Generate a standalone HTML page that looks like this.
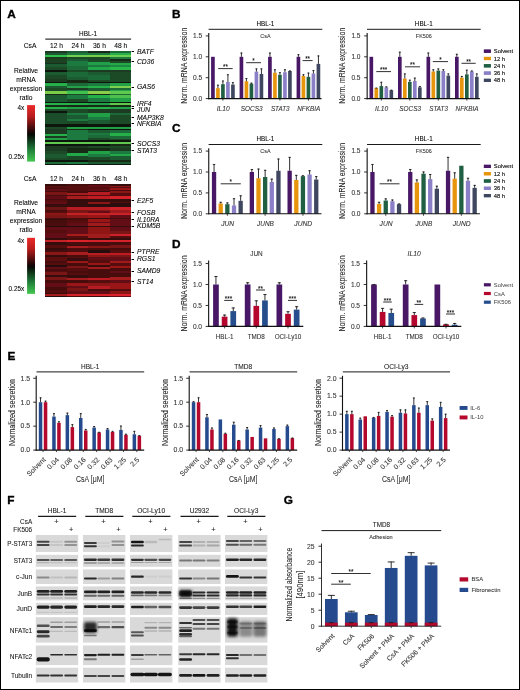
<!DOCTYPE html>
<html><head><meta charset="utf-8"><style>
html,body{margin:0;padding:0;background:#fff;}
svg{display:block;font-family:"Liberation Sans",sans-serif;will-change:transform;filter:blur(0.25px);}
#fr{position:absolute;left:0;top:0;width:520px;height:690px;box-sizing:border-box;border:1px solid #000;}
body{position:relative;width:520px;height:690px;overflow:hidden;}
</style></head><body>
<svg width="520" height="690" viewBox="0 0 520 690">
<rect x="0" y="0" width="520" height="690" fill="#fff"/>
<text x="7.2" y="17.5" font-size="11.8" font-weight="bold" fill="#000" stroke="#000" stroke-width="0.35">A</text>
<text x="171.9" y="17.6" font-size="11.8" font-weight="bold" fill="#000" stroke="#000" stroke-width="0.35">B</text>
<text x="171.9" y="132.2" font-size="11.8" font-weight="bold" fill="#000" stroke="#000" stroke-width="0.35">C</text>
<text x="172" y="247.5" font-size="11.8" font-weight="bold" fill="#000" stroke="#000" stroke-width="0.35">D</text>
<text x="7.5" y="359.7" font-size="11.8" font-weight="bold" fill="#000" stroke="#000" stroke-width="0.35">E</text>
<text x="7.3" y="504.2" font-size="11.8" font-weight="bold" fill="#000" stroke="#000" stroke-width="0.35">F</text>
<text x="283.8" y="503.9" font-size="11.8" font-weight="bold" fill="#000" stroke="#000" stroke-width="0.35">G</text>
<defs><filter id="hb" x="0" y="-2%" width="100%" height="104%"><feGaussianBlur stdDeviation="0.35"/></filter></defs>
<g filter="url(#hb)"><g shape-rendering="crispEdges">
<rect x="45.3" y="51.3" width="85.6" height="113.7" fill="#1a3a20"/>
<rect x="45.3" y="51.3" width="21.45" height="1.25" fill="#1a3a20"/>
<rect x="45.3" y="52.5" width="21.45" height="2.25" fill="#1e5a30"/>
<rect x="45.3" y="54.7" width="21.45" height="2.15" fill="#30c050"/>
<rect x="45.3" y="56.8" width="21.45" height="1.75" fill="#1a3a1e"/>
<rect x="45.3" y="58.5" width="21.45" height="4.25" fill="#1e4224"/>
<rect x="45.3" y="62.7" width="21.45" height="1.75" fill="#14301a"/>
<rect x="45.3" y="64.4" width="21.45" height="2.55" fill="#1e5a30"/>
<rect x="45.3" y="66.9" width="21.45" height="3.45" fill="#1e4a28"/>
<rect x="45.3" y="70.3" width="21.45" height="1.75" fill="#0c180c"/>
<rect x="45.3" y="72" width="21.45" height="3.45" fill="#1e5a30"/>
<rect x="45.3" y="75.4" width="21.45" height="3.45" fill="#1e4a28"/>
<rect x="45.3" y="78.8" width="21.45" height="2.95" fill="#1c3d22"/>
<rect x="45.3" y="81.7" width="21.45" height="1.75" fill="#0c180c"/>
<rect x="45.3" y="83.4" width="21.45" height="2.65" fill="#28b04a"/>
<rect x="45.3" y="86" width="21.45" height="2.05" fill="#1e5a30"/>
<rect x="45.3" y="88" width="21.45" height="2.55" fill="#1e4a28"/>
<rect x="45.3" y="90.5" width="21.45" height="0.95" fill="#1e5a30"/>
<rect x="45.3" y="91.4" width="21.45" height="2.15" fill="#7acc48"/>
<rect x="45.3" y="93.5" width="21.45" height="1.75" fill="#142a18"/>
<rect x="45.3" y="95.2" width="21.45" height="6.35" fill="#1e5a30"/>
<rect x="45.3" y="101.5" width="21.45" height="1.35" fill="#0c180c"/>
<rect x="45.3" y="102.8" width="21.45" height="2.15" fill="#28b04a"/>
<rect x="45.3" y="104.9" width="21.45" height="2.15" fill="#142a18"/>
<rect x="45.3" y="107" width="21.45" height="2.25" fill="#28b04a"/>
<rect x="45.3" y="109.2" width="21.45" height="1.65" fill="#1e4a28"/>
<rect x="45.3" y="110.8" width="21.45" height="2.25" fill="#0c180c"/>
<rect x="45.3" y="113" width="21.45" height="11.45" fill="#1e4d2a"/>
<rect x="45.3" y="124.4" width="21.45" height="2.15" fill="#0c180c"/>
<rect x="45.3" y="126.5" width="21.45" height="0.85" fill="#1e5a30"/>
<rect x="45.3" y="127.3" width="21.45" height="1.75" fill="#1e4a28"/>
<rect x="45.3" y="129" width="21.45" height="5.05" fill="#1a3a20"/>
<rect x="45.3" y="134" width="21.45" height="2.25" fill="#28b04a"/>
<rect x="45.3" y="136.2" width="21.45" height="1.65" fill="#1a3a20"/>
<rect x="45.3" y="137.8" width="21.45" height="2.25" fill="#22a045"/>
<rect x="45.3" y="140" width="21.45" height="1.75" fill="#0c180c"/>
<rect x="45.3" y="141.7" width="21.45" height="2.15" fill="#60c850"/>
<rect x="45.3" y="143.8" width="21.45" height="1.75" fill="#0c180c"/>
<rect x="45.3" y="145.5" width="21.45" height="5.95" fill="#1a3a20"/>
<rect x="45.3" y="151.4" width="21.45" height="2.55" fill="#1e4a28"/>
<rect x="45.3" y="153.9" width="21.45" height="4.25" fill="#1e5a30"/>
<rect x="45.3" y="158.1" width="21.45" height="1.75" fill="#1e4a28"/>
<rect x="45.3" y="159.8" width="21.45" height="1.75" fill="#0c180c"/>
<rect x="45.3" y="161.5" width="21.45" height="2.15" fill="#1e6a38"/>
<rect x="45.3" y="163.6" width="21.45" height="1.45" fill="#0c180c"/>
<rect x="66.7" y="51.3" width="21.45" height="1.25" fill="#1e5a30"/>
<rect x="66.7" y="52.5" width="21.45" height="2.25" fill="#1e7a40"/>
<rect x="66.7" y="54.7" width="21.45" height="2.15" fill="#70d050"/>
<rect x="66.7" y="56.8" width="21.45" height="1.75" fill="#1a4a25"/>
<rect x="66.7" y="58.5" width="21.45" height="2.55" fill="#1e5a30"/>
<rect x="66.7" y="61" width="21.45" height="5.05" fill="#1e7a40"/>
<rect x="66.7" y="66" width="21.45" height="4.35" fill="#1e6a38"/>
<rect x="66.7" y="70.3" width="21.45" height="1.75" fill="#1e4a28"/>
<rect x="66.7" y="72" width="21.45" height="5.15" fill="#1e6a38"/>
<rect x="66.7" y="77.1" width="21.45" height="2.55" fill="#1e5a30"/>
<rect x="66.7" y="79.6" width="21.45" height="3.45" fill="#142a18"/>
<rect x="66.7" y="83" width="21.45" height="2.55" fill="#1e6a38"/>
<rect x="66.7" y="85.5" width="21.45" height="2.15" fill="#28a048"/>
<rect x="66.7" y="87.6" width="21.45" height="2.15" fill="#1a3a20"/>
<rect x="66.7" y="89.7" width="21.45" height="1.75" fill="#1e7a40"/>
<rect x="66.7" y="91.4" width="21.45" height="2.15" fill="#40c050"/>
<rect x="66.7" y="93.5" width="21.45" height="1.75" fill="#1e4a28"/>
<rect x="66.7" y="95.2" width="21.45" height="3.85" fill="#1e7a40"/>
<rect x="66.7" y="99" width="21.45" height="2.55" fill="#1e4a28"/>
<rect x="66.7" y="101.5" width="21.45" height="1.35" fill="#0c180c"/>
<rect x="66.7" y="102.8" width="21.45" height="2.15" fill="#28b04a"/>
<rect x="66.7" y="104.9" width="21.45" height="2.15" fill="#142a18"/>
<rect x="66.7" y="107" width="21.45" height="2.25" fill="#22a045"/>
<rect x="66.7" y="109.2" width="21.45" height="3.35" fill="#1e4a28"/>
<rect x="66.7" y="112.5" width="21.45" height="2.65" fill="#1e7a40"/>
<rect x="66.7" y="115.1" width="21.45" height="3.45" fill="#1e5a30"/>
<rect x="66.7" y="118.5" width="21.45" height="2.55" fill="#1e7a40"/>
<rect x="66.7" y="121" width="21.45" height="3.45" fill="#1e4a28"/>
<rect x="66.7" y="124.4" width="21.45" height="2.15" fill="#0c180c"/>
<rect x="66.7" y="126.5" width="21.45" height="2.05" fill="#22a045"/>
<rect x="66.7" y="128.5" width="21.45" height="1.75" fill="#142a18"/>
<rect x="66.7" y="130.2" width="21.45" height="9.85" fill="#1e7a40"/>
<rect x="66.7" y="140" width="21.45" height="1.75" fill="#0c180c"/>
<rect x="66.7" y="141.7" width="21.45" height="2.15" fill="#60c850"/>
<rect x="66.7" y="143.8" width="21.45" height="1.75" fill="#0c180c"/>
<rect x="66.7" y="145.5" width="21.45" height="2.55" fill="#1a3a20"/>
<rect x="66.7" y="148" width="21.45" height="5.05" fill="#142a18"/>
<rect x="66.7" y="153" width="21.45" height="3.05" fill="#22a848"/>
<rect x="66.7" y="156" width="21.45" height="3.85" fill="#1e4a28"/>
<rect x="66.7" y="159.8" width="21.45" height="1.75" fill="#0c180c"/>
<rect x="66.7" y="161.5" width="21.45" height="2.15" fill="#1e7a40"/>
<rect x="66.7" y="163.6" width="21.45" height="1.45" fill="#0c180c"/>
<rect x="88.1" y="51.3" width="21.45" height="1.25" fill="#142a18"/>
<rect x="88.1" y="52.5" width="21.45" height="2.25" fill="#1e7a40"/>
<rect x="88.1" y="54.7" width="21.45" height="2.15" fill="#78d048"/>
<rect x="88.1" y="56.8" width="21.45" height="5.05" fill="#1e4a28"/>
<rect x="88.1" y="61.8" width="21.45" height="3.45" fill="#20a048"/>
<rect x="88.1" y="65.2" width="21.45" height="1.75" fill="#1e7a40"/>
<rect x="88.1" y="66.9" width="21.45" height="3.45" fill="#22a848"/>
<rect x="88.1" y="70.3" width="21.45" height="1.75" fill="#1a3a20"/>
<rect x="88.1" y="72" width="21.45" height="3.45" fill="#1e5a30"/>
<rect x="88.1" y="75.4" width="21.45" height="4.25" fill="#1e6a38"/>
<rect x="88.1" y="79.6" width="21.45" height="2.15" fill="#1e4a28"/>
<rect x="88.1" y="81.7" width="21.45" height="1.75" fill="#0c180c"/>
<rect x="88.1" y="83.4" width="21.45" height="2.15" fill="#1e7a40"/>
<rect x="88.1" y="85.5" width="21.45" height="2.15" fill="#28b04a"/>
<rect x="88.1" y="87.6" width="21.45" height="2.95" fill="#1e5a30"/>
<rect x="88.1" y="90.5" width="21.45" height="0.95" fill="#1e4a28"/>
<rect x="88.1" y="91.4" width="21.45" height="2.15" fill="#8acc48"/>
<rect x="88.1" y="93.5" width="21.45" height="1.75" fill="#142a18"/>
<rect x="88.1" y="95.2" width="21.45" height="2.55" fill="#28b04a"/>
<rect x="88.1" y="97.7" width="21.45" height="3.85" fill="#1e7a40"/>
<rect x="88.1" y="101.5" width="21.45" height="1.35" fill="#0c180c"/>
<rect x="88.1" y="102.8" width="21.45" height="2.15" fill="#20a048"/>
<rect x="88.1" y="104.9" width="21.45" height="2.15" fill="#142a18"/>
<rect x="88.1" y="107" width="21.45" height="2.25" fill="#28b04a"/>
<rect x="88.1" y="109.2" width="21.45" height="3.35" fill="#1a3a20"/>
<rect x="88.1" y="112.5" width="21.45" height="4.35" fill="#22a045"/>
<rect x="88.1" y="116.8" width="21.45" height="3.35" fill="#1e7a40"/>
<rect x="88.1" y="120.1" width="21.45" height="4.35" fill="#1e5a30"/>
<rect x="88.1" y="124.4" width="21.45" height="2.15" fill="#0c180c"/>
<rect x="88.1" y="126.5" width="21.45" height="2.05" fill="#22a045"/>
<rect x="88.1" y="128.5" width="21.45" height="1.75" fill="#0c180c"/>
<rect x="88.1" y="130.2" width="21.45" height="2.65" fill="#1e5a30"/>
<rect x="88.1" y="132.8" width="21.45" height="2.55" fill="#1e7a40"/>
<rect x="88.1" y="135.3" width="21.45" height="3.05" fill="#1e6a38"/>
<rect x="88.1" y="138.3" width="21.45" height="1.75" fill="#1e4a28"/>
<rect x="88.1" y="140" width="21.45" height="1.75" fill="#0c180c"/>
<rect x="88.1" y="141.7" width="21.45" height="2.15" fill="#60c850"/>
<rect x="88.1" y="143.8" width="21.45" height="1.75" fill="#0c180c"/>
<rect x="88.1" y="145.5" width="21.45" height="2.55" fill="#1e4a28"/>
<rect x="88.1" y="148" width="21.45" height="2.55" fill="#142a18"/>
<rect x="88.1" y="150.5" width="21.45" height="3.45" fill="#22a045"/>
<rect x="88.1" y="153.9" width="21.45" height="2.65" fill="#1e7a40"/>
<rect x="88.1" y="156.5" width="21.45" height="3.35" fill="#1e4a28"/>
<rect x="88.1" y="159.8" width="21.45" height="1.75" fill="#142a18"/>
<rect x="88.1" y="161.5" width="21.45" height="2.15" fill="#1e5a30"/>
<rect x="88.1" y="163.6" width="21.45" height="1.45" fill="#0c180c"/>
<rect x="109.5" y="51.3" width="21.45" height="1.25" fill="#1e6a38"/>
<rect x="109.5" y="52.5" width="21.45" height="2.25" fill="#28b04a"/>
<rect x="109.5" y="54.7" width="21.45" height="2.15" fill="#70d050"/>
<rect x="109.5" y="56.8" width="21.45" height="2.15" fill="#1e7a40"/>
<rect x="109.5" y="58.9" width="21.45" height="1.75" fill="#142a18"/>
<rect x="109.5" y="60.6" width="21.45" height="2.15" fill="#1e4a28"/>
<rect x="109.5" y="62.7" width="21.45" height="2.55" fill="#28a848"/>
<rect x="109.5" y="65.2" width="21.45" height="1.75" fill="#1e8a40"/>
<rect x="109.5" y="66.9" width="21.45" height="3.45" fill="#2ab84c"/>
<rect x="109.5" y="70.3" width="21.45" height="1.75" fill="#1a3a20"/>
<rect x="109.5" y="72" width="21.45" height="9.75" fill="#1e4a28"/>
<rect x="109.5" y="81.7" width="21.45" height="1.75" fill="#0c180c"/>
<rect x="109.5" y="83.4" width="21.45" height="2.15" fill="#22a045"/>
<rect x="109.5" y="85.5" width="21.45" height="2.15" fill="#80d050"/>
<rect x="109.5" y="87.6" width="21.45" height="2.15" fill="#1e6a38"/>
<rect x="109.5" y="89.7" width="21.45" height="1.75" fill="#28a848"/>
<rect x="109.5" y="91.4" width="21.45" height="2.15" fill="#60c850"/>
<rect x="109.5" y="93.5" width="21.45" height="1.75" fill="#1e6a38"/>
<rect x="109.5" y="95.2" width="21.45" height="2.55" fill="#50c050"/>
<rect x="109.5" y="97.7" width="21.45" height="3.85" fill="#22a045"/>
<rect x="109.5" y="101.5" width="21.45" height="1.35" fill="#0c180c"/>
<rect x="109.5" y="102.8" width="21.45" height="2.15" fill="#60c848"/>
<rect x="109.5" y="104.9" width="21.45" height="2.15" fill="#142a18"/>
<rect x="109.5" y="107" width="21.45" height="2.25" fill="#22a045"/>
<rect x="109.5" y="109.2" width="21.45" height="3.35" fill="#1a3a20"/>
<rect x="109.5" y="112.5" width="21.45" height="2.65" fill="#1e6a38"/>
<rect x="109.5" y="115.1" width="21.45" height="9.35" fill="#1e4a28"/>
<rect x="109.5" y="124.4" width="21.45" height="2.15" fill="#0c180c"/>
<rect x="109.5" y="126.5" width="21.45" height="2.05" fill="#22a045"/>
<rect x="109.5" y="128.5" width="21.45" height="1.75" fill="#0c180c"/>
<rect x="109.5" y="130.2" width="21.45" height="2.65" fill="#1e6a38"/>
<rect x="109.5" y="132.8" width="21.45" height="3.45" fill="#28b04a"/>
<rect x="109.5" y="136.2" width="21.45" height="2.55" fill="#1e6a38"/>
<rect x="109.5" y="138.7" width="21.45" height="1.35" fill="#1e4a28"/>
<rect x="109.5" y="140" width="21.45" height="1.75" fill="#0c180c"/>
<rect x="109.5" y="141.7" width="21.45" height="2.15" fill="#60c850"/>
<rect x="109.5" y="143.8" width="21.45" height="1.75" fill="#142a18"/>
<rect x="109.5" y="145.5" width="21.45" height="2.55" fill="#1e4a28"/>
<rect x="109.5" y="148" width="21.45" height="3.45" fill="#1a3a20"/>
<rect x="109.5" y="151.4" width="21.45" height="2.15" fill="#1e7a40"/>
<rect x="109.5" y="153.5" width="21.45" height="2.55" fill="#22a848"/>
<rect x="109.5" y="156" width="21.45" height="3.85" fill="#1e5a30"/>
<rect x="109.5" y="159.8" width="21.45" height="1.75" fill="#142a18"/>
<rect x="109.5" y="161.5" width="21.45" height="2.15" fill="#1e5a30"/>
<rect x="109.5" y="163.6" width="21.45" height="1.45" fill="#0c180c"/>
</g></g>
<g filter="url(#hb)"><g shape-rendering="crispEdges">
<rect x="45.3" y="184.1" width="85.6" height="113.2" fill="#351010"/>
<rect x="45.3" y="184.1" width="21.45" height="1.75" fill="#351010"/>
<rect x="45.3" y="185.8" width="21.45" height="1.75" fill="#550e10"/>
<rect x="45.3" y="187.5" width="21.45" height="1.35" fill="#460e10"/>
<rect x="45.3" y="188.8" width="21.45" height="1.75" fill="#641012"/>
<rect x="45.3" y="190.5" width="21.45" height="1.75" fill="#460e10"/>
<rect x="45.3" y="192.2" width="21.45" height="2.55" fill="#7a1214"/>
<rect x="45.3" y="194.7" width="21.45" height="1.35" fill="#460e10"/>
<rect x="45.3" y="196" width="21.45" height="2.55" fill="#641012"/>
<rect x="45.3" y="198.5" width="21.45" height="1.75" fill="#460e10"/>
<rect x="45.3" y="200.2" width="21.45" height="2.15" fill="#550e10"/>
<rect x="45.3" y="202.3" width="21.45" height="1.75" fill="#641012"/>
<rect x="45.3" y="204" width="21.45" height="3.45" fill="#351010"/>
<rect x="45.3" y="207.4" width="21.45" height="2.55" fill="#6a1214"/>
<rect x="45.3" y="209.9" width="21.45" height="1.35" fill="#460e10"/>
<rect x="45.3" y="211.2" width="21.45" height="1.75" fill="#550e10"/>
<rect x="45.3" y="212.9" width="21.45" height="2.55" fill="#8a1416"/>
<rect x="45.3" y="215.4" width="21.45" height="2.15" fill="#7a1214"/>
<rect x="45.3" y="217.5" width="21.45" height="1.75" fill="#460e10"/>
<rect x="45.3" y="219.2" width="21.45" height="0.85" fill="#351010"/>
<rect x="45.3" y="220" width="21.45" height="2.55" fill="#460e10"/>
<rect x="45.3" y="222.5" width="21.45" height="3.45" fill="#4c0e10"/>
<rect x="45.3" y="225.9" width="21.45" height="1.35" fill="#271010"/>
<rect x="45.3" y="227.2" width="21.45" height="3.05" fill="#641012"/>
<rect x="45.3" y="230.2" width="21.45" height="2.55" fill="#550e10"/>
<rect x="45.3" y="232.7" width="21.45" height="5.15" fill="#641012"/>
<rect x="45.3" y="237.8" width="21.45" height="2.55" fill="#351010"/>
<rect x="45.3" y="240.3" width="21.45" height="2.15" fill="#c52025"/>
<rect x="45.3" y="242.4" width="21.45" height="3.05" fill="#351010"/>
<rect x="45.3" y="245.4" width="21.45" height="2.55" fill="#550e10"/>
<rect x="45.3" y="247.9" width="21.45" height="1.75" fill="#351010"/>
<rect x="45.3" y="249.6" width="21.45" height="2.55" fill="#460e10"/>
<rect x="45.3" y="252.1" width="21.45" height="2.65" fill="#8a1416"/>
<rect x="45.3" y="254.7" width="21.45" height="2.55" fill="#351010"/>
<rect x="45.3" y="257.2" width="21.45" height="3.35" fill="#5b0f11"/>
<rect x="45.3" y="260.5" width="21.45" height="2.65" fill="#460e10"/>
<rect x="45.3" y="263.1" width="21.45" height="1.75" fill="#550e10"/>
<rect x="45.3" y="264.8" width="21.45" height="1.75" fill="#271010"/>
<rect x="45.3" y="266.5" width="21.45" height="2.15" fill="#641012"/>
<rect x="45.3" y="268.6" width="21.45" height="2.15" fill="#460e10"/>
<rect x="45.3" y="270.7" width="21.45" height="1.75" fill="#550e10"/>
<rect x="45.3" y="272.4" width="21.45" height="2.55" fill="#7a1214"/>
<rect x="45.3" y="274.9" width="21.45" height="2.15" fill="#351010"/>
<rect x="45.3" y="277" width="21.45" height="3.45" fill="#7a1214"/>
<rect x="45.3" y="280.4" width="21.45" height="3.05" fill="#460e10"/>
<rect x="45.3" y="283.4" width="21.45" height="3.45" fill="#641012"/>
<rect x="45.3" y="286.8" width="21.45" height="3.35" fill="#460e10"/>
<rect x="45.3" y="290.1" width="21.45" height="2.65" fill="#550e10"/>
<rect x="45.3" y="292.7" width="21.45" height="1.75" fill="#351010"/>
<rect x="45.3" y="294.4" width="21.45" height="1.25" fill="#a71a1f"/>
<rect x="45.3" y="295.6" width="21.45" height="1.75" fill="#271010"/>
<rect x="66.7" y="184.1" width="21.45" height="1.75" fill="#460e10"/>
<rect x="66.7" y="185.8" width="21.45" height="4.75" fill="#550e10"/>
<rect x="66.7" y="190.5" width="21.45" height="2.15" fill="#460e10"/>
<rect x="66.7" y="192.6" width="21.45" height="2.15" fill="#a71a1f"/>
<rect x="66.7" y="194.7" width="21.45" height="1.35" fill="#460e10"/>
<rect x="66.7" y="196" width="21.45" height="2.55" fill="#a71a1f"/>
<rect x="66.7" y="198.5" width="21.45" height="8.95" fill="#351010"/>
<rect x="66.7" y="207.4" width="21.45" height="2.55" fill="#b61c21"/>
<rect x="66.7" y="209.9" width="21.45" height="2.65" fill="#7a1214"/>
<rect x="66.7" y="212.5" width="21.45" height="2.95" fill="#c52025"/>
<rect x="66.7" y="215.4" width="21.45" height="3.05" fill="#8a1416"/>
<rect x="66.7" y="218.4" width="21.45" height="1.65" fill="#460e10"/>
<rect x="66.7" y="220" width="21.45" height="2.55" fill="#550e10"/>
<rect x="66.7" y="222.5" width="21.45" height="3.05" fill="#641012"/>
<rect x="66.7" y="225.5" width="21.45" height="1.75" fill="#271010"/>
<rect x="66.7" y="227.2" width="21.45" height="6.35" fill="#641012"/>
<rect x="66.7" y="233.5" width="21.45" height="2.25" fill="#a71a1f"/>
<rect x="66.7" y="235.7" width="21.45" height="2.15" fill="#550e10"/>
<rect x="66.7" y="237.8" width="21.45" height="2.55" fill="#460e10"/>
<rect x="66.7" y="240.3" width="21.45" height="2.15" fill="#dc242a"/>
<rect x="66.7" y="242.4" width="21.45" height="2.65" fill="#460e10"/>
<rect x="66.7" y="245" width="21.45" height="1.25" fill="#351010"/>
<rect x="66.7" y="246.2" width="21.45" height="1.75" fill="#a71a1f"/>
<rect x="66.7" y="247.9" width="21.45" height="4.25" fill="#4c0e10"/>
<rect x="66.7" y="252.1" width="21.45" height="2.65" fill="#a71a1f"/>
<rect x="66.7" y="254.7" width="21.45" height="2.55" fill="#460e10"/>
<rect x="66.7" y="257.2" width="21.45" height="0.85" fill="#550e10"/>
<rect x="66.7" y="258" width="21.45" height="3.05" fill="#351010"/>
<rect x="66.7" y="261" width="21.45" height="2.15" fill="#9a1618"/>
<rect x="66.7" y="263.1" width="21.45" height="2.95" fill="#460e10"/>
<rect x="66.7" y="266" width="21.45" height="2.25" fill="#7a1214"/>
<rect x="66.7" y="268.2" width="21.45" height="2.55" fill="#550e10"/>
<rect x="66.7" y="270.7" width="21.45" height="2.15" fill="#460e10"/>
<rect x="66.7" y="272.8" width="21.45" height="2.15" fill="#550e10"/>
<rect x="66.7" y="274.9" width="21.45" height="3.45" fill="#351010"/>
<rect x="66.7" y="278.3" width="21.45" height="2.15" fill="#a71a1f"/>
<rect x="66.7" y="280.4" width="21.45" height="3.05" fill="#460e10"/>
<rect x="66.7" y="283.4" width="21.45" height="2.55" fill="#9a1618"/>
<rect x="66.7" y="285.9" width="21.45" height="2.15" fill="#641012"/>
<rect x="66.7" y="288" width="21.45" height="3.05" fill="#7a1214"/>
<rect x="66.7" y="291" width="21.45" height="3.05" fill="#641012"/>
<rect x="66.7" y="294" width="21.45" height="1.65" fill="#d4242a"/>
<rect x="66.7" y="295.6" width="21.45" height="1.75" fill="#460e10"/>
<rect x="88.1" y="184.1" width="21.45" height="1.35" fill="#351010"/>
<rect x="88.1" y="185.4" width="21.45" height="1.75" fill="#641012"/>
<rect x="88.1" y="187.1" width="21.45" height="1.75" fill="#550e10"/>
<rect x="88.1" y="188.8" width="21.45" height="1.75" fill="#641012"/>
<rect x="88.1" y="190.5" width="21.45" height="1.75" fill="#351010"/>
<rect x="88.1" y="192.2" width="21.45" height="2.55" fill="#b61c21"/>
<rect x="88.1" y="194.7" width="21.45" height="1.55" fill="#550e10"/>
<rect x="88.1" y="196.2" width="21.45" height="2.35" fill="#be1e23"/>
<rect x="88.1" y="198.5" width="21.45" height="3.85" fill="#351010"/>
<rect x="88.1" y="202.3" width="21.45" height="1.75" fill="#8a1416"/>
<rect x="88.1" y="204" width="21.45" height="3.45" fill="#2c1010"/>
<rect x="88.1" y="207.4" width="21.45" height="2.55" fill="#b61c21"/>
<rect x="88.1" y="209.9" width="21.45" height="1.35" fill="#8a1416"/>
<rect x="88.1" y="211.2" width="21.45" height="1.35" fill="#641012"/>
<rect x="88.1" y="212.5" width="21.45" height="2.95" fill="#c52025"/>
<rect x="88.1" y="215.4" width="21.45" height="2.15" fill="#9a1618"/>
<rect x="88.1" y="217.5" width="21.45" height="1.75" fill="#351010"/>
<rect x="88.1" y="219.2" width="21.45" height="2.55" fill="#9a1618"/>
<rect x="88.1" y="221.7" width="21.45" height="1.35" fill="#641012"/>
<rect x="88.1" y="223" width="21.45" height="2.95" fill="#a01a1c"/>
<rect x="88.1" y="225.9" width="21.45" height="1.35" fill="#351010"/>
<rect x="88.1" y="227.2" width="21.45" height="6.85" fill="#901618"/>
<rect x="88.1" y="234" width="21.45" height="3.85" fill="#a01a1c"/>
<rect x="88.1" y="237.8" width="21.45" height="2.55" fill="#351010"/>
<rect x="88.1" y="240.3" width="21.45" height="2.15" fill="#d4242a"/>
<rect x="88.1" y="242.4" width="21.45" height="3.85" fill="#460e10"/>
<rect x="88.1" y="246.2" width="21.45" height="1.75" fill="#8a1416"/>
<rect x="88.1" y="247.9" width="21.45" height="1.75" fill="#460e10"/>
<rect x="88.1" y="249.6" width="21.45" height="3.05" fill="#271010"/>
<rect x="88.1" y="252.6" width="21.45" height="2.15" fill="#b61c21"/>
<rect x="88.1" y="254.7" width="21.45" height="2.55" fill="#8a1416"/>
<rect x="88.1" y="257.2" width="21.45" height="2.95" fill="#641012"/>
<rect x="88.1" y="260.1" width="21.45" height="3.05" fill="#550e10"/>
<rect x="88.1" y="263.1" width="21.45" height="2.15" fill="#9a1618"/>
<rect x="88.1" y="265.2" width="21.45" height="2.15" fill="#351010"/>
<rect x="88.1" y="267.3" width="21.45" height="2.15" fill="#a01a1c"/>
<rect x="88.1" y="269.4" width="21.45" height="8.55" fill="#460e10"/>
<rect x="88.1" y="277.9" width="21.45" height="2.55" fill="#be1e23"/>
<rect x="88.1" y="280.4" width="21.45" height="3.05" fill="#550e10"/>
<rect x="88.1" y="283.4" width="21.45" height="2.95" fill="#8a1416"/>
<rect x="88.1" y="286.3" width="21.45" height="2.65" fill="#b61c21"/>
<rect x="88.1" y="288.9" width="21.45" height="2.55" fill="#460e10"/>
<rect x="88.1" y="291.4" width="21.45" height="2.15" fill="#641012"/>
<rect x="88.1" y="293.5" width="21.45" height="2.15" fill="#dc242a"/>
<rect x="88.1" y="295.6" width="21.45" height="1.75" fill="#351010"/>
<rect x="109.5" y="184.1" width="21.45" height="1.75" fill="#351010"/>
<rect x="109.5" y="185.8" width="21.45" height="1.35" fill="#8a1416"/>
<rect x="109.5" y="187.1" width="21.45" height="1.25" fill="#550e10"/>
<rect x="109.5" y="188.3" width="21.45" height="1.75" fill="#9a1618"/>
<rect x="109.5" y="190" width="21.45" height="1.35" fill="#460e10"/>
<rect x="109.5" y="191.3" width="21.45" height="2.15" fill="#8a1416"/>
<rect x="109.5" y="193.4" width="21.45" height="2.15" fill="#550e10"/>
<rect x="109.5" y="195.5" width="21.45" height="3.45" fill="#d4242a"/>
<rect x="109.5" y="198.9" width="21.45" height="2.65" fill="#351010"/>
<rect x="109.5" y="201.5" width="21.45" height="1.75" fill="#550e10"/>
<rect x="109.5" y="203.2" width="21.45" height="4.25" fill="#2c1010"/>
<rect x="109.5" y="207.4" width="21.45" height="2.55" fill="#cd242a"/>
<rect x="109.5" y="209.9" width="21.45" height="2.65" fill="#a01a1c"/>
<rect x="109.5" y="212.5" width="21.45" height="2.95" fill="#cd242a"/>
<rect x="109.5" y="215.4" width="21.45" height="2.15" fill="#641012"/>
<rect x="109.5" y="217.5" width="21.45" height="1.75" fill="#460e10"/>
<rect x="109.5" y="219.2" width="21.45" height="6.35" fill="#641012"/>
<rect x="109.5" y="225.5" width="21.45" height="1.75" fill="#351010"/>
<rect x="109.5" y="227.2" width="21.45" height="3.45" fill="#641012"/>
<rect x="109.5" y="230.6" width="21.45" height="2.95" fill="#7a1214"/>
<rect x="109.5" y="233.5" width="21.45" height="2.25" fill="#cd242a"/>
<rect x="109.5" y="235.7" width="21.45" height="2.15" fill="#550e10"/>
<rect x="109.5" y="237.8" width="21.45" height="2.55" fill="#351010"/>
<rect x="109.5" y="240.3" width="21.45" height="2.15" fill="#d4242a"/>
<rect x="109.5" y="242.4" width="21.45" height="3.05" fill="#460e10"/>
<rect x="109.5" y="245.4" width="21.45" height="2.55" fill="#7a1214"/>
<rect x="109.5" y="247.9" width="21.45" height="1.75" fill="#460e10"/>
<rect x="109.5" y="249.6" width="21.45" height="3.05" fill="#550e10"/>
<rect x="109.5" y="252.6" width="21.45" height="2.15" fill="#be1e23"/>
<rect x="109.5" y="254.7" width="21.45" height="2.55" fill="#7a1214"/>
<rect x="109.5" y="257.2" width="21.45" height="3.35" fill="#641012"/>
<rect x="109.5" y="260.5" width="21.45" height="2.65" fill="#a01a1c"/>
<rect x="109.5" y="263.1" width="21.45" height="2.55" fill="#550e10"/>
<rect x="109.5" y="265.6" width="21.45" height="2.65" fill="#9a1618"/>
<rect x="109.5" y="268.2" width="21.45" height="2.55" fill="#460e10"/>
<rect x="109.5" y="270.7" width="21.45" height="2.15" fill="#641012"/>
<rect x="109.5" y="272.8" width="21.45" height="4.25" fill="#460e10"/>
<rect x="109.5" y="277" width="21.45" height="3.45" fill="#a71a1f"/>
<rect x="109.5" y="280.4" width="21.45" height="3.05" fill="#641012"/>
<rect x="109.5" y="283.4" width="21.45" height="5.15" fill="#9a1618"/>
<rect x="109.5" y="288.5" width="21.45" height="2.55" fill="#550e10"/>
<rect x="109.5" y="291" width="21.45" height="2.55" fill="#8a1416"/>
<rect x="109.5" y="293.5" width="21.45" height="2.15" fill="#dc242a"/>
<rect x="109.5" y="295.6" width="21.45" height="1.75" fill="#641012"/>
</g></g>
<text x="88.1" y="35.9" font-size="6.7" text-anchor="middle" stroke="#1a1a1a" stroke-width="0.08" textLength="18.2" lengthAdjust="spacingAndGlyphs">HBL-1</text>
<line x1="45.3" y1="39" x2="131.1" y2="39" stroke="#333" stroke-width="1.25"/>
<text x="30.1" y="48" font-size="6.7" text-anchor="middle" stroke="#1a1a1a" stroke-width="0.08">CsA</text>
<text x="56.6" y="48" font-size="6.7" text-anchor="middle" stroke="#1a1a1a" stroke-width="0.08">12 h</text>
<text x="78" y="48" font-size="6.7" text-anchor="middle" stroke="#1a1a1a" stroke-width="0.08">24 h</text>
<text x="99.4" y="48" font-size="6.7" text-anchor="middle" stroke="#1a1a1a" stroke-width="0.08">36 h</text>
<text x="120.8" y="48" font-size="6.7" text-anchor="middle" stroke="#1a1a1a" stroke-width="0.08">48 h</text>
<text x="30.1" y="181" font-size="6.7" text-anchor="middle" stroke="#1a1a1a" stroke-width="0.08">CsA</text>
<text x="56.6" y="181" font-size="6.7" text-anchor="middle" stroke="#1a1a1a" stroke-width="0.08">12 h</text>
<text x="78" y="181" font-size="6.7" text-anchor="middle" stroke="#1a1a1a" stroke-width="0.08">24 h</text>
<text x="99.4" y="181" font-size="6.7" text-anchor="middle" stroke="#1a1a1a" stroke-width="0.08">36 h</text>
<text x="120.8" y="181" font-size="6.7" text-anchor="middle" stroke="#1a1a1a" stroke-width="0.08">48 h</text>
<line x1="131.6" y1="51.5" x2="134" y2="51.5" stroke="#000" stroke-width="1"/>
<text x="137" y="54.1" font-size="6.75" font-style="italic" stroke="#1a1a1a" stroke-width="0.08">BATF</text>
<line x1="131.6" y1="61.5" x2="134" y2="61.5" stroke="#000" stroke-width="1"/>
<text x="137" y="63.9" font-size="6.75" font-style="italic" stroke="#1a1a1a" stroke-width="0.08">CD36</text>
<line x1="131.6" y1="87.5" x2="134" y2="87.5" stroke="#000" stroke-width="1"/>
<text x="137" y="89.2" font-size="6.75" font-style="italic" stroke="#1a1a1a" stroke-width="0.08">GAS6</text>
<line x1="131.6" y1="106.5" x2="134" y2="106.5" stroke="#000" stroke-width="1"/>
<text x="137" y="105.8" font-size="6.75" font-style="italic" stroke="#1a1a1a" stroke-width="0.08">IRF4</text>
<line x1="131.6" y1="108.5" x2="134" y2="108.5" stroke="#000" stroke-width="1"/>
<text x="137" y="111.8" font-size="6.75" font-style="italic" stroke="#1a1a1a" stroke-width="0.08">JUN</text>
<line x1="131.6" y1="117.5" x2="134" y2="117.5" stroke="#000" stroke-width="1"/>
<text x="137" y="119.6" font-size="6.75" font-style="italic" stroke="#1a1a1a" stroke-width="0.08">MAP3K8</text>
<line x1="131.6" y1="123.5" x2="134" y2="123.5" stroke="#000" stroke-width="1"/>
<text x="137" y="125.7" font-size="6.75" font-style="italic" stroke="#1a1a1a" stroke-width="0.08">NFKBIA</text>
<line x1="131.6" y1="143.5" x2="134" y2="143.5" stroke="#000" stroke-width="1"/>
<text x="137" y="145.5" font-size="6.75" font-style="italic" stroke="#1a1a1a" stroke-width="0.08">SOCS3</text>
<line x1="131.6" y1="150.5" x2="134" y2="150.5" stroke="#000" stroke-width="1"/>
<text x="137" y="152.5" font-size="6.75" font-style="italic" stroke="#1a1a1a" stroke-width="0.08">STAT3</text>
<line x1="131.6" y1="200.5" x2="134" y2="200.5" stroke="#000" stroke-width="1"/>
<text x="137" y="202.6" font-size="6.75" font-style="italic" stroke="#1a1a1a" stroke-width="0.08">E2F5</text>
<line x1="131.6" y1="212.5" x2="134" y2="212.5" stroke="#000" stroke-width="1"/>
<text x="137" y="214.5" font-size="6.75" font-style="italic" stroke="#1a1a1a" stroke-width="0.08">FOSB</text>
<line x1="131.6" y1="219.5" x2="134" y2="219.5" stroke="#000" stroke-width="1"/>
<text x="137" y="221.6" font-size="6.75" font-style="italic" stroke="#1a1a1a" stroke-width="0.08">IL10RA</text>
<line x1="131.6" y1="226.5" x2="134" y2="226.5" stroke="#000" stroke-width="1"/>
<text x="137" y="228.4" font-size="6.75" font-style="italic" stroke="#1a1a1a" stroke-width="0.08">KDM5B</text>
<line x1="131.6" y1="252.5" x2="134" y2="252.5" stroke="#000" stroke-width="1"/>
<text x="137" y="254.2" font-size="6.75" font-style="italic" stroke="#1a1a1a" stroke-width="0.08">PTPRE</text>
<line x1="131.6" y1="259.5" x2="134" y2="259.5" stroke="#000" stroke-width="1"/>
<text x="137" y="261.1" font-size="6.75" font-style="italic" stroke="#1a1a1a" stroke-width="0.08">RGS1</text>
<line x1="131.6" y1="271.5" x2="134" y2="271.5" stroke="#000" stroke-width="1"/>
<text x="137" y="273.3" font-size="6.75" font-style="italic" stroke="#1a1a1a" stroke-width="0.08">SAMD9</text>
<line x1="131.6" y1="281.5" x2="134" y2="281.5" stroke="#000" stroke-width="1"/>
<text x="137" y="283.8" font-size="6.75" font-style="italic" stroke="#1a1a1a" stroke-width="0.08">ST14</text>
<defs><linearGradient id="cb" x1="0" y1="0" x2="0" y2="1"><stop offset="0" stop-color="#ec2a2a"/><stop offset="0.2" stop-color="#b81c1c"/><stop offset="0.48" stop-color="#1a0606"/><stop offset="0.52" stop-color="#060a06"/><stop offset="0.78" stop-color="#1f7a38"/><stop offset="1" stop-color="#45c850"/></linearGradient></defs>
<text x="26" y="72.6" font-size="6.7" text-anchor="middle" stroke="#1a1a1a" stroke-width="0.08">Relative</text>
<text x="26" y="81.7" font-size="6.7" text-anchor="middle" stroke="#1a1a1a" stroke-width="0.08">mRNA</text>
<text x="26" y="90.8" font-size="6.7" text-anchor="middle" stroke="#1a1a1a" stroke-width="0.08">expression</text>
<text x="26" y="99.9" font-size="6.7" text-anchor="middle" stroke="#1a1a1a" stroke-width="0.08">ratio</text>
<rect x="27.1" y="105.1" width="7.9" height="56.5" fill="url(#cb)"/>
<text x="24.2" y="110" font-size="6.4" text-anchor="end" stroke="#1a1a1a" stroke-width="0.08">4x</text>
<text x="24.2" y="159" font-size="6.4" text-anchor="end" stroke="#1a1a1a" stroke-width="0.08">0.25x</text>
<text x="26" y="204.9" font-size="6.7" text-anchor="middle" stroke="#1a1a1a" stroke-width="0.08">Relative</text>
<text x="26" y="214" font-size="6.7" text-anchor="middle" stroke="#1a1a1a" stroke-width="0.08">mRNA</text>
<text x="26" y="223.1" font-size="6.7" text-anchor="middle" stroke="#1a1a1a" stroke-width="0.08">expression</text>
<text x="26" y="232.2" font-size="6.7" text-anchor="middle" stroke="#1a1a1a" stroke-width="0.08">ratio</text>
<rect x="27.1" y="237.8" width="7.9" height="56.1" fill="url(#cb)"/>
<text x="24.2" y="242.7" font-size="6.4" text-anchor="end" stroke="#1a1a1a" stroke-width="0.08">4x</text>
<text x="24.2" y="291.3" font-size="6.4" text-anchor="end" stroke="#1a1a1a" stroke-width="0.08">0.25x</text>
<text x="265.4" y="26.1" font-size="6.3" text-anchor="middle" stroke="#1a1a1a" stroke-width="0.08">HBL-1</text>
<line x1="208.6" y1="29.3" x2="322.3" y2="29.3" stroke="#1a1a1a" stroke-width="1"/>
<text x="265.4" y="37.6" font-size="5.4" text-anchor="middle" fill="#333" stroke="#333" stroke-width="0.08">CsA</text>
<rect x="211.1" y="56.8" width="3.65" height="41.8" fill="#481766"/>
<rect x="216.1" y="88.15" width="3.65" height="10.45" fill="#e8950e"/>
<line x1="217.92" y1="88.15" x2="217.92" y2="84.81" stroke="#1a1a1a" stroke-width="0.9"/>
<line x1="216.92" y1="85.21" x2="218.93" y2="85.21" stroke="#1a1a1a" stroke-width="0.9"/>
<rect x="221.1" y="84.18" width="3.65" height="14.42" fill="#215f43"/>
<line x1="222.92" y1="84.18" x2="222.92" y2="80.63" stroke="#1a1a1a" stroke-width="0.9"/>
<line x1="221.92" y1="81.03" x2="223.93" y2="81.03" stroke="#1a1a1a" stroke-width="0.9"/>
<rect x="226.1" y="81.88" width="3.65" height="16.72" fill="#8b80c8"/>
<line x1="227.92" y1="81.88" x2="227.92" y2="74.36" stroke="#1a1a1a" stroke-width="0.9"/>
<line x1="226.92" y1="74.76" x2="228.93" y2="74.76" stroke="#1a1a1a" stroke-width="0.9"/>
<rect x="231.1" y="84.6" width="3.65" height="14" fill="#3e475f"/>
<line x1="232.92" y1="84.6" x2="232.92" y2="82.3" stroke="#1a1a1a" stroke-width="0.9"/>
<line x1="231.92" y1="82.7" x2="233.93" y2="82.7" stroke="#1a1a1a" stroke-width="0.9"/>
<rect x="239.6" y="56.8" width="3.65" height="41.8" fill="#481766"/>
<line x1="241.42" y1="56.8" x2="241.42" y2="52.62" stroke="#1a1a1a" stroke-width="0.9"/>
<line x1="240.42" y1="53.02" x2="242.43" y2="53.02" stroke="#1a1a1a" stroke-width="0.9"/>
<rect x="244.6" y="81.25" width="3.65" height="17.35" fill="#e8950e"/>
<line x1="246.42" y1="81.25" x2="246.42" y2="78.12" stroke="#1a1a1a" stroke-width="0.9"/>
<line x1="245.42" y1="78.52" x2="247.43" y2="78.52" stroke="#1a1a1a" stroke-width="0.9"/>
<rect x="249.6" y="83.68" width="3.65" height="14.92" fill="#215f43"/>
<line x1="251.42" y1="83.68" x2="251.42" y2="82.72" stroke="#1a1a1a" stroke-width="0.9"/>
<line x1="250.42" y1="83.12" x2="252.43" y2="83.12" stroke="#1a1a1a" stroke-width="0.9"/>
<rect x="254.6" y="71.64" width="3.65" height="26.96" fill="#8b80c8"/>
<line x1="256.43" y1="71.64" x2="256.43" y2="68.5" stroke="#1a1a1a" stroke-width="0.9"/>
<line x1="255.42" y1="68.9" x2="257.43" y2="68.9" stroke="#1a1a1a" stroke-width="0.9"/>
<rect x="259.6" y="73.94" width="3.65" height="24.66" fill="#3e475f"/>
<line x1="261.43" y1="73.94" x2="261.43" y2="68.5" stroke="#1a1a1a" stroke-width="0.9"/>
<line x1="260.42" y1="68.9" x2="262.43" y2="68.9" stroke="#1a1a1a" stroke-width="0.9"/>
<rect x="268.1" y="56.8" width="3.65" height="41.8" fill="#481766"/>
<line x1="269.93" y1="56.8" x2="269.93" y2="52.62" stroke="#1a1a1a" stroke-width="0.9"/>
<line x1="268.92" y1="53.02" x2="270.93" y2="53.02" stroke="#1a1a1a" stroke-width="0.9"/>
<rect x="273.1" y="72.68" width="3.65" height="25.92" fill="#e8950e"/>
<line x1="274.93" y1="72.68" x2="274.93" y2="69.34" stroke="#1a1a1a" stroke-width="0.9"/>
<line x1="273.92" y1="69.74" x2="275.93" y2="69.74" stroke="#1a1a1a" stroke-width="0.9"/>
<rect x="278.1" y="74.77" width="3.65" height="23.83" fill="#215f43"/>
<line x1="279.93" y1="74.77" x2="279.93" y2="72.27" stroke="#1a1a1a" stroke-width="0.9"/>
<line x1="278.92" y1="72.67" x2="280.93" y2="72.67" stroke="#1a1a1a" stroke-width="0.9"/>
<rect x="283.1" y="72.27" width="3.65" height="26.33" fill="#8b80c8"/>
<line x1="284.93" y1="72.27" x2="284.93" y2="69.34" stroke="#1a1a1a" stroke-width="0.9"/>
<line x1="283.92" y1="69.74" x2="285.93" y2="69.74" stroke="#1a1a1a" stroke-width="0.9"/>
<rect x="288.1" y="71.01" width="3.65" height="27.59" fill="#3e475f"/>
<line x1="289.93" y1="71.01" x2="289.93" y2="70.59" stroke="#1a1a1a" stroke-width="0.9"/>
<line x1="288.92" y1="70.99" x2="290.93" y2="70.99" stroke="#1a1a1a" stroke-width="0.9"/>
<rect x="296.6" y="56.8" width="3.65" height="41.8" fill="#481766"/>
<line x1="298.43" y1="56.8" x2="298.43" y2="54.29" stroke="#1a1a1a" stroke-width="0.9"/>
<line x1="297.42" y1="54.69" x2="299.43" y2="54.69" stroke="#1a1a1a" stroke-width="0.9"/>
<rect x="301.6" y="76.03" width="3.65" height="22.57" fill="#e8950e"/>
<line x1="303.43" y1="76.03" x2="303.43" y2="74.36" stroke="#1a1a1a" stroke-width="0.9"/>
<line x1="302.42" y1="74.76" x2="304.43" y2="74.76" stroke="#1a1a1a" stroke-width="0.9"/>
<rect x="306.6" y="76.86" width="3.65" height="21.74" fill="#215f43"/>
<line x1="308.43" y1="76.86" x2="308.43" y2="72.68" stroke="#1a1a1a" stroke-width="0.9"/>
<line x1="307.42" y1="73.08" x2="309.43" y2="73.08" stroke="#1a1a1a" stroke-width="0.9"/>
<rect x="311.6" y="73.52" width="3.65" height="25.08" fill="#8b80c8"/>
<line x1="313.43" y1="73.52" x2="313.43" y2="70.18" stroke="#1a1a1a" stroke-width="0.9"/>
<line x1="312.42" y1="70.58" x2="314.43" y2="70.58" stroke="#1a1a1a" stroke-width="0.9"/>
<rect x="316.6" y="63.91" width="3.65" height="34.69" fill="#3e475f"/>
<line x1="318.43" y1="63.91" x2="318.43" y2="55.55" stroke="#1a1a1a" stroke-width="0.9"/>
<line x1="317.42" y1="55.95" x2="319.43" y2="55.95" stroke="#1a1a1a" stroke-width="0.9"/>
<line x1="208.75" y1="33.1" x2="208.75" y2="99.15" stroke="#111" stroke-width="1.1"/>
<line x1="208.2" y1="98.6" x2="321.5" y2="98.6" stroke="#111" stroke-width="1.1"/>
<line x1="205.75" y1="98.6" x2="208.75" y2="98.6" stroke="#1a1a1a" stroke-width="0.9"/>
<text x="202.15" y="100.9" font-size="6.6" text-anchor="end" fill="#333" stroke="#333" stroke-width="0.08">0.0</text>
<line x1="205.75" y1="77.7" x2="208.75" y2="77.7" stroke="#1a1a1a" stroke-width="0.9"/>
<text x="202.15" y="80" font-size="6.6" text-anchor="end" fill="#333" stroke="#333" stroke-width="0.08">0.5</text>
<line x1="205.75" y1="56.8" x2="208.75" y2="56.8" stroke="#1a1a1a" stroke-width="0.9"/>
<text x="202.15" y="59.1" font-size="6.6" text-anchor="end" fill="#333" stroke="#333" stroke-width="0.08">1.0</text>
<line x1="205.75" y1="35.9" x2="208.75" y2="35.9" stroke="#1a1a1a" stroke-width="0.9"/>
<text x="202.15" y="38.2" font-size="6.6" text-anchor="end" fill="#333" stroke="#333" stroke-width="0.08">1.5</text>
<line x1="222.92" y1="98.6" x2="222.92" y2="100.6" stroke="#1a1a1a" stroke-width="0.8"/>
<line x1="251.42" y1="98.6" x2="251.42" y2="100.6" stroke="#1a1a1a" stroke-width="0.8"/>
<line x1="279.93" y1="98.6" x2="279.93" y2="100.6" stroke="#1a1a1a" stroke-width="0.8"/>
<line x1="308.43" y1="98.6" x2="308.43" y2="100.6" stroke="#1a1a1a" stroke-width="0.8"/>
<text x="223.22" y="111" font-size="6.8" text-anchor="middle" font-style="italic" fill="#333" stroke="#333" stroke-width="0.08" textLength="13" lengthAdjust="spacingAndGlyphs">IL10</text>
<text x="251.72" y="111" font-size="6.8" text-anchor="middle" font-style="italic" fill="#333" stroke="#333" stroke-width="0.08" textLength="21.9" lengthAdjust="spacingAndGlyphs">SOCS3</text>
<text x="280.23" y="111" font-size="6.8" text-anchor="middle" font-style="italic" fill="#333" stroke="#333" stroke-width="0.08" textLength="18.7" lengthAdjust="spacingAndGlyphs">STAT3</text>
<text x="308.73" y="111" font-size="6.8" text-anchor="middle" font-style="italic" fill="#333" stroke="#333" stroke-width="0.08" textLength="23" lengthAdjust="spacingAndGlyphs">NFKBIA</text>
<line x1="218.2" y1="68.6" x2="232.7" y2="68.6" stroke="#1a1a1a" stroke-width="0.9"/>
<text x="225.45" y="69.2" font-size="6.3" text-anchor="middle" stroke="#1a1a1a" stroke-width="0.08">**</text>
<line x1="246.2" y1="62.7" x2="261" y2="62.7" stroke="#1a1a1a" stroke-width="0.9"/>
<text x="253.6" y="63.3" font-size="6.3" text-anchor="middle" stroke="#1a1a1a" stroke-width="0.08">*</text>
<line x1="302.6" y1="60.6" x2="312.6" y2="60.6" stroke="#1a1a1a" stroke-width="0.9"/>
<text x="307.6" y="61.2" font-size="6.3" text-anchor="middle" stroke="#1a1a1a" stroke-width="0.08">**</text>
<text x="186.9" y="65.7" font-size="8.6" text-anchor="middle" fill="#222" stroke="#222" stroke-width="0.08" transform="rotate(-90 186.9 65.7)" textLength="76" lengthAdjust="spacingAndGlyphs">Norm. mRNA expression</text>
<rect x="483.9" y="49.6" width="6.9" height="3.2" fill="#481766"/>
<text x="493.8" y="53.2" font-size="5.8" fill="#3a3a3a" stroke-width="0">Solvent</text>
<rect x="483.9" y="56.9" width="6.9" height="3.2" fill="#e8950e"/>
<text x="493.8" y="60.5" font-size="5.8" fill="#3a3a3a" stroke-width="0">12 h</text>
<rect x="483.9" y="64.2" width="6.9" height="3.2" fill="#215f43"/>
<text x="493.8" y="67.8" font-size="5.8" fill="#3a3a3a" stroke-width="0">24 h</text>
<rect x="483.9" y="71.5" width="6.9" height="3.2" fill="#8b80c8"/>
<text x="493.8" y="75.1" font-size="5.8" fill="#3a3a3a" stroke-width="0">36 h</text>
<rect x="483.9" y="78.8" width="6.9" height="3.2" fill="#3e475f"/>
<text x="493.8" y="82.4" font-size="5.8" fill="#3a3a3a" stroke-width="0">48 h</text>
<text x="423.8" y="26.1" font-size="6.3" text-anchor="middle" stroke="#1a1a1a" stroke-width="0.08">HBL-1</text>
<line x1="367" y1="29.3" x2="480.7" y2="29.3" stroke="#1a1a1a" stroke-width="1"/>
<text x="423.8" y="37.6" font-size="5.4" text-anchor="middle" fill="#333" stroke="#333" stroke-width="0.08">FK506</text>
<rect x="369.5" y="56.8" width="3.65" height="41.8" fill="#481766"/>
<rect x="374.5" y="88.15" width="3.65" height="10.45" fill="#e8950e"/>
<line x1="376.32" y1="88.15" x2="376.32" y2="87.73" stroke="#1a1a1a" stroke-width="0.9"/>
<line x1="375.32" y1="88.13" x2="377.33" y2="88.13" stroke="#1a1a1a" stroke-width="0.9"/>
<rect x="379.5" y="86.06" width="3.65" height="12.54" fill="#215f43"/>
<line x1="381.32" y1="86.06" x2="381.32" y2="81.88" stroke="#1a1a1a" stroke-width="0.9"/>
<line x1="380.32" y1="82.28" x2="382.33" y2="82.28" stroke="#1a1a1a" stroke-width="0.9"/>
<rect x="384.5" y="87.31" width="3.65" height="11.29" fill="#8b80c8"/>
<line x1="386.32" y1="87.31" x2="386.32" y2="86.48" stroke="#1a1a1a" stroke-width="0.9"/>
<line x1="385.32" y1="86.88" x2="387.33" y2="86.88" stroke="#1a1a1a" stroke-width="0.9"/>
<rect x="389.5" y="90.24" width="3.65" height="8.36" fill="#3e475f"/>
<line x1="391.32" y1="90.24" x2="391.32" y2="89.82" stroke="#1a1a1a" stroke-width="0.9"/>
<line x1="390.32" y1="90.22" x2="392.33" y2="90.22" stroke="#1a1a1a" stroke-width="0.9"/>
<rect x="398" y="56.8" width="3.65" height="41.8" fill="#481766"/>
<line x1="399.82" y1="56.8" x2="399.82" y2="51.78" stroke="#1a1a1a" stroke-width="0.9"/>
<line x1="398.82" y1="52.18" x2="400.83" y2="52.18" stroke="#1a1a1a" stroke-width="0.9"/>
<rect x="403" y="78.54" width="3.65" height="20.06" fill="#e8950e"/>
<line x1="404.82" y1="78.54" x2="404.82" y2="73.52" stroke="#1a1a1a" stroke-width="0.9"/>
<line x1="403.82" y1="73.92" x2="405.83" y2="73.92" stroke="#1a1a1a" stroke-width="0.9"/>
<rect x="408" y="81.88" width="3.65" height="16.72" fill="#215f43"/>
<line x1="409.82" y1="81.88" x2="409.82" y2="79.79" stroke="#1a1a1a" stroke-width="0.9"/>
<line x1="408.82" y1="80.19" x2="410.83" y2="80.19" stroke="#1a1a1a" stroke-width="0.9"/>
<rect x="413" y="81.04" width="3.65" height="17.56" fill="#8b80c8"/>
<line x1="414.82" y1="81.04" x2="414.82" y2="77.7" stroke="#1a1a1a" stroke-width="0.9"/>
<line x1="413.82" y1="78.1" x2="415.83" y2="78.1" stroke="#1a1a1a" stroke-width="0.9"/>
<rect x="418" y="87.31" width="3.65" height="11.29" fill="#3e475f"/>
<line x1="419.82" y1="87.31" x2="419.82" y2="86.06" stroke="#1a1a1a" stroke-width="0.9"/>
<line x1="418.82" y1="86.46" x2="420.83" y2="86.46" stroke="#1a1a1a" stroke-width="0.9"/>
<rect x="426.5" y="56.8" width="3.65" height="41.8" fill="#481766"/>
<line x1="428.32" y1="56.8" x2="428.32" y2="52.62" stroke="#1a1a1a" stroke-width="0.9"/>
<line x1="427.32" y1="53.02" x2="429.33" y2="53.02" stroke="#1a1a1a" stroke-width="0.9"/>
<rect x="431.5" y="71.43" width="3.65" height="27.17" fill="#e8950e"/>
<line x1="433.32" y1="71.43" x2="433.32" y2="69.34" stroke="#1a1a1a" stroke-width="0.9"/>
<line x1="432.32" y1="69.74" x2="434.33" y2="69.74" stroke="#1a1a1a" stroke-width="0.9"/>
<rect x="436.5" y="70.59" width="3.65" height="28.01" fill="#215f43"/>
<line x1="438.32" y1="70.59" x2="438.32" y2="68.5" stroke="#1a1a1a" stroke-width="0.9"/>
<line x1="437.32" y1="68.9" x2="439.33" y2="68.9" stroke="#1a1a1a" stroke-width="0.9"/>
<rect x="441.5" y="71.01" width="3.65" height="27.59" fill="#8b80c8"/>
<line x1="443.32" y1="71.01" x2="443.32" y2="69.34" stroke="#1a1a1a" stroke-width="0.9"/>
<line x1="442.32" y1="69.74" x2="444.33" y2="69.74" stroke="#1a1a1a" stroke-width="0.9"/>
<rect x="446.5" y="75.61" width="3.65" height="22.99" fill="#3e475f"/>
<line x1="448.32" y1="75.61" x2="448.32" y2="73.52" stroke="#1a1a1a" stroke-width="0.9"/>
<line x1="447.32" y1="73.92" x2="449.33" y2="73.92" stroke="#1a1a1a" stroke-width="0.9"/>
<rect x="455" y="56.8" width="3.65" height="41.8" fill="#481766"/>
<line x1="456.82" y1="56.8" x2="456.82" y2="53.87" stroke="#1a1a1a" stroke-width="0.9"/>
<line x1="455.82" y1="54.27" x2="457.83" y2="54.27" stroke="#1a1a1a" stroke-width="0.9"/>
<rect x="460" y="77.7" width="3.65" height="20.9" fill="#e8950e"/>
<line x1="461.82" y1="77.7" x2="461.82" y2="76.03" stroke="#1a1a1a" stroke-width="0.9"/>
<line x1="460.82" y1="76.43" x2="462.83" y2="76.43" stroke="#1a1a1a" stroke-width="0.9"/>
<rect x="465" y="74.36" width="3.65" height="24.24" fill="#215f43"/>
<line x1="466.82" y1="74.36" x2="466.82" y2="69.76" stroke="#1a1a1a" stroke-width="0.9"/>
<line x1="465.82" y1="70.16" x2="467.83" y2="70.16" stroke="#1a1a1a" stroke-width="0.9"/>
<rect x="470" y="71.43" width="3.65" height="27.17" fill="#8b80c8"/>
<line x1="471.82" y1="71.43" x2="471.82" y2="70.59" stroke="#1a1a1a" stroke-width="0.9"/>
<line x1="470.82" y1="70.99" x2="472.83" y2="70.99" stroke="#1a1a1a" stroke-width="0.9"/>
<rect x="475" y="76.86" width="3.65" height="21.74" fill="#3e475f"/>
<line x1="476.82" y1="76.86" x2="476.82" y2="73.52" stroke="#1a1a1a" stroke-width="0.9"/>
<line x1="475.82" y1="73.92" x2="477.83" y2="73.92" stroke="#1a1a1a" stroke-width="0.9"/>
<line x1="367.15" y1="33.1" x2="367.15" y2="99.15" stroke="#111" stroke-width="1.1"/>
<line x1="366.6" y1="98.6" x2="479.9" y2="98.6" stroke="#111" stroke-width="1.1"/>
<line x1="364.15" y1="98.6" x2="367.15" y2="98.6" stroke="#1a1a1a" stroke-width="0.9"/>
<text x="360.55" y="100.9" font-size="6.6" text-anchor="end" fill="#333" stroke="#333" stroke-width="0.08">0.0</text>
<line x1="364.15" y1="77.7" x2="367.15" y2="77.7" stroke="#1a1a1a" stroke-width="0.9"/>
<text x="360.55" y="80" font-size="6.6" text-anchor="end" fill="#333" stroke="#333" stroke-width="0.08">0.5</text>
<line x1="364.15" y1="56.8" x2="367.15" y2="56.8" stroke="#1a1a1a" stroke-width="0.9"/>
<text x="360.55" y="59.1" font-size="6.6" text-anchor="end" fill="#333" stroke="#333" stroke-width="0.08">1.0</text>
<line x1="364.15" y1="35.9" x2="367.15" y2="35.9" stroke="#1a1a1a" stroke-width="0.9"/>
<text x="360.55" y="38.2" font-size="6.6" text-anchor="end" fill="#333" stroke="#333" stroke-width="0.08">1.5</text>
<line x1="381.32" y1="98.6" x2="381.32" y2="100.6" stroke="#1a1a1a" stroke-width="0.8"/>
<line x1="409.82" y1="98.6" x2="409.82" y2="100.6" stroke="#1a1a1a" stroke-width="0.8"/>
<line x1="438.32" y1="98.6" x2="438.32" y2="100.6" stroke="#1a1a1a" stroke-width="0.8"/>
<line x1="466.82" y1="98.6" x2="466.82" y2="100.6" stroke="#1a1a1a" stroke-width="0.8"/>
<text x="381.62" y="111" font-size="6.8" text-anchor="middle" font-style="italic" fill="#333" stroke="#333" stroke-width="0.08" textLength="13" lengthAdjust="spacingAndGlyphs">IL10</text>
<text x="410.12" y="111" font-size="6.8" text-anchor="middle" font-style="italic" fill="#333" stroke="#333" stroke-width="0.08" textLength="21.9" lengthAdjust="spacingAndGlyphs">SOCS3</text>
<text x="438.62" y="111" font-size="6.8" text-anchor="middle" font-style="italic" fill="#333" stroke="#333" stroke-width="0.08" textLength="18.7" lengthAdjust="spacingAndGlyphs">STAT3</text>
<text x="467.12" y="111" font-size="6.8" text-anchor="middle" font-style="italic" fill="#333" stroke="#333" stroke-width="0.08" textLength="23" lengthAdjust="spacingAndGlyphs">NFKBIA</text>
<line x1="376.3" y1="71.6" x2="391" y2="71.6" stroke="#1a1a1a" stroke-width="0.9"/>
<text x="383.65" y="72.2" font-size="6.3" text-anchor="middle" stroke="#1a1a1a" stroke-width="0.08">***</text>
<line x1="405" y1="66.8" x2="420" y2="66.8" stroke="#1a1a1a" stroke-width="0.9"/>
<text x="412.5" y="67.4" font-size="6.3" text-anchor="middle" stroke="#1a1a1a" stroke-width="0.08">**</text>
<line x1="432.8" y1="61.6" x2="448" y2="61.6" stroke="#1a1a1a" stroke-width="0.9"/>
<text x="440.4" y="62.2" font-size="6.3" text-anchor="middle" stroke="#1a1a1a" stroke-width="0.08">*</text>
<line x1="461.5" y1="63.3" x2="475.7" y2="63.3" stroke="#1a1a1a" stroke-width="0.9"/>
<text x="468.6" y="63.9" font-size="6.3" text-anchor="middle" stroke="#1a1a1a" stroke-width="0.08">**</text>
<text x="345.3" y="65.7" font-size="8.6" text-anchor="middle" fill="#222" stroke="#222" stroke-width="0.08" transform="rotate(-90 345.3 65.7)" textLength="76" lengthAdjust="spacingAndGlyphs">Norm. mRNA expression</text>
<rect x="483.9" y="49.6" width="6.9" height="3.2" fill="#481766"/>
<text x="493.8" y="53.2" font-size="5.8" fill="#3a3a3a" stroke-width="0">Solvent</text>
<rect x="483.9" y="56.9" width="6.9" height="3.2" fill="#e8950e"/>
<text x="493.8" y="60.5" font-size="5.8" fill="#3a3a3a" stroke-width="0">12 h</text>
<rect x="483.9" y="64.2" width="6.9" height="3.2" fill="#215f43"/>
<text x="493.8" y="67.8" font-size="5.8" fill="#3a3a3a" stroke-width="0">24 h</text>
<rect x="483.9" y="71.5" width="6.9" height="3.2" fill="#8b80c8"/>
<text x="493.8" y="75.1" font-size="5.8" fill="#3a3a3a" stroke-width="0">36 h</text>
<rect x="483.9" y="78.8" width="6.9" height="3.2" fill="#3e475f"/>
<text x="493.8" y="82.4" font-size="5.8" fill="#3a3a3a" stroke-width="0">48 h</text>
<text x="265.4" y="141.3" font-size="6.3" text-anchor="middle" stroke="#1a1a1a" stroke-width="0.08">HBL-1</text>
<line x1="208.6" y1="144.5" x2="322.3" y2="144.5" stroke="#1a1a1a" stroke-width="1"/>
<text x="265.4" y="152.8" font-size="5.4" text-anchor="middle" fill="#333" stroke="#333" stroke-width="0.08">CsA</text>
<rect x="211.9" y="172" width="4.3" height="41.8" fill="#481766"/>
<line x1="214.05" y1="172" x2="214.05" y2="164.06" stroke="#1a1a1a" stroke-width="0.9"/>
<line x1="212.87" y1="164.46" x2="215.23" y2="164.46" stroke="#1a1a1a" stroke-width="0.9"/>
<rect x="218.55" y="203.56" width="4.3" height="10.24" fill="#e8950e"/>
<line x1="220.7" y1="203.56" x2="220.7" y2="201.89" stroke="#1a1a1a" stroke-width="0.9"/>
<line x1="219.52" y1="202.29" x2="221.88" y2="202.29" stroke="#1a1a1a" stroke-width="0.9"/>
<rect x="225.2" y="204.19" width="4.3" height="9.61" fill="#215f43"/>
<line x1="227.35" y1="204.19" x2="227.35" y2="202.51" stroke="#1a1a1a" stroke-width="0.9"/>
<line x1="226.17" y1="202.91" x2="228.53" y2="202.91" stroke="#1a1a1a" stroke-width="0.9"/>
<rect x="231.85" y="205.44" width="4.3" height="8.36" fill="#8b80c8"/>
<line x1="234" y1="205.44" x2="234" y2="198.33" stroke="#1a1a1a" stroke-width="0.9"/>
<line x1="232.82" y1="198.73" x2="235.18" y2="198.73" stroke="#1a1a1a" stroke-width="0.9"/>
<rect x="238.5" y="200.84" width="4.3" height="12.96" fill="#3e475f"/>
<line x1="240.65" y1="200.84" x2="240.65" y2="195.41" stroke="#1a1a1a" stroke-width="0.9"/>
<line x1="239.47" y1="195.81" x2="241.83" y2="195.81" stroke="#1a1a1a" stroke-width="0.9"/>
<rect x="249.7" y="172" width="4.3" height="41.8" fill="#481766"/>
<line x1="251.85" y1="172" x2="251.85" y2="169.07" stroke="#1a1a1a" stroke-width="0.9"/>
<line x1="250.67" y1="169.47" x2="253.03" y2="169.47" stroke="#1a1a1a" stroke-width="0.9"/>
<rect x="256.35" y="178.27" width="4.3" height="35.53" fill="#e8950e"/>
<line x1="258.5" y1="178.27" x2="258.5" y2="168.66" stroke="#1a1a1a" stroke-width="0.9"/>
<line x1="257.32" y1="169.06" x2="259.68" y2="169.06" stroke="#1a1a1a" stroke-width="0.9"/>
<rect x="263" y="177.02" width="4.3" height="36.78" fill="#215f43"/>
<line x1="265.15" y1="177.02" x2="265.15" y2="169.91" stroke="#1a1a1a" stroke-width="0.9"/>
<line x1="263.97" y1="170.31" x2="266.33" y2="170.31" stroke="#1a1a1a" stroke-width="0.9"/>
<rect x="269.65" y="182.03" width="4.3" height="31.77" fill="#8b80c8"/>
<line x1="271.8" y1="182.03" x2="271.8" y2="178.69" stroke="#1a1a1a" stroke-width="0.9"/>
<line x1="270.62" y1="179.09" x2="272.98" y2="179.09" stroke="#1a1a1a" stroke-width="0.9"/>
<rect x="276.3" y="170.75" width="4.3" height="43.05" fill="#3e475f"/>
<line x1="278.45" y1="170.75" x2="278.45" y2="158.62" stroke="#1a1a1a" stroke-width="0.9"/>
<line x1="277.27" y1="159.02" x2="279.63" y2="159.02" stroke="#1a1a1a" stroke-width="0.9"/>
<rect x="287.5" y="170.75" width="4.3" height="43.05" fill="#481766"/>
<line x1="289.65" y1="170.75" x2="289.65" y2="156.95" stroke="#1a1a1a" stroke-width="0.9"/>
<line x1="288.47" y1="157.35" x2="290.83" y2="157.35" stroke="#1a1a1a" stroke-width="0.9"/>
<rect x="294.15" y="179.94" width="4.3" height="33.86" fill="#e8950e"/>
<line x1="296.3" y1="179.94" x2="296.3" y2="174.93" stroke="#1a1a1a" stroke-width="0.9"/>
<line x1="295.12" y1="175.33" x2="297.48" y2="175.33" stroke="#1a1a1a" stroke-width="0.9"/>
<rect x="300.8" y="176.18" width="4.3" height="37.62" fill="#215f43"/>
<line x1="302.95" y1="176.18" x2="302.95" y2="175.34" stroke="#1a1a1a" stroke-width="0.9"/>
<line x1="301.77" y1="175.74" x2="304.13" y2="175.74" stroke="#1a1a1a" stroke-width="0.9"/>
<rect x="307.45" y="174.51" width="4.3" height="39.29" fill="#8b80c8"/>
<line x1="309.6" y1="174.51" x2="309.6" y2="170.33" stroke="#1a1a1a" stroke-width="0.9"/>
<line x1="308.42" y1="170.73" x2="310.78" y2="170.73" stroke="#1a1a1a" stroke-width="0.9"/>
<rect x="314.1" y="179.52" width="4.3" height="34.28" fill="#3e475f"/>
<line x1="316.25" y1="179.52" x2="316.25" y2="176.18" stroke="#1a1a1a" stroke-width="0.9"/>
<line x1="315.07" y1="176.58" x2="317.43" y2="176.58" stroke="#1a1a1a" stroke-width="0.9"/>
<line x1="208.75" y1="148.3" x2="208.75" y2="214.35" stroke="#111" stroke-width="1.1"/>
<line x1="208.2" y1="213.8" x2="321.5" y2="213.8" stroke="#111" stroke-width="1.1"/>
<line x1="205.75" y1="213.8" x2="208.75" y2="213.8" stroke="#1a1a1a" stroke-width="0.9"/>
<text x="202.15" y="216.1" font-size="6.6" text-anchor="end" fill="#333" stroke="#333" stroke-width="0.08">0.0</text>
<line x1="205.75" y1="192.9" x2="208.75" y2="192.9" stroke="#1a1a1a" stroke-width="0.9"/>
<text x="202.15" y="195.2" font-size="6.6" text-anchor="end" fill="#333" stroke="#333" stroke-width="0.08">0.5</text>
<line x1="205.75" y1="172" x2="208.75" y2="172" stroke="#1a1a1a" stroke-width="0.9"/>
<text x="202.15" y="174.3" font-size="6.6" text-anchor="end" fill="#333" stroke="#333" stroke-width="0.08">1.0</text>
<line x1="205.75" y1="151.1" x2="208.75" y2="151.1" stroke="#1a1a1a" stroke-width="0.9"/>
<text x="202.15" y="153.4" font-size="6.6" text-anchor="end" fill="#333" stroke="#333" stroke-width="0.08">1.5</text>
<line x1="227.35" y1="213.8" x2="227.35" y2="215.8" stroke="#1a1a1a" stroke-width="0.8"/>
<line x1="265.15" y1="213.8" x2="265.15" y2="215.8" stroke="#1a1a1a" stroke-width="0.8"/>
<line x1="302.95" y1="213.8" x2="302.95" y2="215.8" stroke="#1a1a1a" stroke-width="0.8"/>
<text x="227.65" y="226.2" font-size="6.8" text-anchor="middle" font-style="italic" fill="#333" stroke="#333" stroke-width="0.08" textLength="13" lengthAdjust="spacingAndGlyphs">JUN</text>
<text x="265.45" y="226.2" font-size="6.8" text-anchor="middle" font-style="italic" fill="#333" stroke="#333" stroke-width="0.08" textLength="16.8" lengthAdjust="spacingAndGlyphs">JUNB</text>
<text x="303.25" y="226.2" font-size="6.8" text-anchor="middle" font-style="italic" fill="#333" stroke="#333" stroke-width="0.08" textLength="17.9" lengthAdjust="spacingAndGlyphs">JUND</text>
<line x1="220.7" y1="183.8" x2="240.8" y2="183.8" stroke="#1a1a1a" stroke-width="0.9"/>
<text x="230.75" y="184.4" font-size="6.3" text-anchor="middle" stroke="#1a1a1a" stroke-width="0.08">*</text>
<text x="186.9" y="180.9" font-size="8.6" text-anchor="middle" fill="#222" stroke="#222" stroke-width="0.08" transform="rotate(-90 186.9 180.9)" textLength="76" lengthAdjust="spacingAndGlyphs">Norm. mRNA expression</text>
<rect x="483.9" y="164.8" width="6.9" height="3.2" fill="#481766"/>
<text x="493.8" y="168.4" font-size="5.8" fill="#3a3a3a" stroke-width="0">Solvent</text>
<rect x="483.9" y="172.1" width="6.9" height="3.2" fill="#e8950e"/>
<text x="493.8" y="175.7" font-size="5.8" fill="#3a3a3a" stroke-width="0">12 h</text>
<rect x="483.9" y="179.4" width="6.9" height="3.2" fill="#215f43"/>
<text x="493.8" y="183" font-size="5.8" fill="#3a3a3a" stroke-width="0">24 h</text>
<rect x="483.9" y="186.7" width="6.9" height="3.2" fill="#8b80c8"/>
<text x="493.8" y="190.3" font-size="5.8" fill="#3a3a3a" stroke-width="0">36 h</text>
<rect x="483.9" y="194" width="6.9" height="3.2" fill="#3e475f"/>
<text x="493.8" y="197.6" font-size="5.8" fill="#3a3a3a" stroke-width="0">48 h</text>
<text x="423.8" y="141.3" font-size="6.3" text-anchor="middle" stroke="#1a1a1a" stroke-width="0.08">HBL-1</text>
<line x1="367" y1="144.5" x2="480.7" y2="144.5" stroke="#1a1a1a" stroke-width="1"/>
<text x="423.8" y="152.8" font-size="5.4" text-anchor="middle" fill="#333" stroke="#333" stroke-width="0.08">FK506</text>
<rect x="370.3" y="172" width="4.3" height="41.8" fill="#481766"/>
<line x1="372.45" y1="172" x2="372.45" y2="164.06" stroke="#1a1a1a" stroke-width="0.9"/>
<line x1="371.27" y1="164.46" x2="373.63" y2="164.46" stroke="#1a1a1a" stroke-width="0.9"/>
<rect x="376.95" y="203.94" width="4.3" height="9.86" fill="#e8950e"/>
<line x1="379.1" y1="203.94" x2="379.1" y2="201.89" stroke="#1a1a1a" stroke-width="0.9"/>
<line x1="377.92" y1="202.29" x2="380.28" y2="202.29" stroke="#1a1a1a" stroke-width="0.9"/>
<rect x="383.6" y="200.55" width="4.3" height="13.25" fill="#215f43"/>
<line x1="385.75" y1="200.55" x2="385.75" y2="198.46" stroke="#1a1a1a" stroke-width="0.9"/>
<line x1="384.57" y1="198.86" x2="386.93" y2="198.86" stroke="#1a1a1a" stroke-width="0.9"/>
<rect x="390.25" y="201.26" width="4.3" height="12.54" fill="#8b80c8"/>
<line x1="392.4" y1="201.26" x2="392.4" y2="199.59" stroke="#1a1a1a" stroke-width="0.9"/>
<line x1="391.22" y1="199.99" x2="393.58" y2="199.99" stroke="#1a1a1a" stroke-width="0.9"/>
<rect x="396.9" y="204.19" width="4.3" height="9.61" fill="#3e475f"/>
<line x1="399.05" y1="204.19" x2="399.05" y2="203.56" stroke="#1a1a1a" stroke-width="0.9"/>
<line x1="397.87" y1="203.96" x2="400.23" y2="203.96" stroke="#1a1a1a" stroke-width="0.9"/>
<rect x="408.1" y="172" width="4.3" height="41.8" fill="#481766"/>
<line x1="410.25" y1="172" x2="410.25" y2="169.07" stroke="#1a1a1a" stroke-width="0.9"/>
<line x1="409.07" y1="169.47" x2="411.43" y2="169.47" stroke="#1a1a1a" stroke-width="0.9"/>
<rect x="414.75" y="182.45" width="4.3" height="31.35" fill="#e8950e"/>
<line x1="416.9" y1="182.45" x2="416.9" y2="179.52" stroke="#1a1a1a" stroke-width="0.9"/>
<line x1="415.72" y1="179.92" x2="418.08" y2="179.92" stroke="#1a1a1a" stroke-width="0.9"/>
<rect x="421.4" y="173.67" width="4.3" height="40.13" fill="#215f43"/>
<line x1="423.55" y1="173.67" x2="423.55" y2="171.58" stroke="#1a1a1a" stroke-width="0.9"/>
<line x1="422.37" y1="171.98" x2="424.73" y2="171.98" stroke="#1a1a1a" stroke-width="0.9"/>
<rect x="428.05" y="179.11" width="4.3" height="34.69" fill="#8b80c8"/>
<line x1="430.2" y1="179.11" x2="430.2" y2="174.09" stroke="#1a1a1a" stroke-width="0.9"/>
<line x1="429.02" y1="174.49" x2="431.38" y2="174.49" stroke="#1a1a1a" stroke-width="0.9"/>
<rect x="434.7" y="188.72" width="4.3" height="25.08" fill="#3e475f"/>
<line x1="436.85" y1="188.72" x2="436.85" y2="185.79" stroke="#1a1a1a" stroke-width="0.9"/>
<line x1="435.67" y1="186.19" x2="438.03" y2="186.19" stroke="#1a1a1a" stroke-width="0.9"/>
<rect x="445.9" y="170.75" width="4.3" height="43.05" fill="#481766"/>
<line x1="448.05" y1="170.75" x2="448.05" y2="156.95" stroke="#1a1a1a" stroke-width="0.9"/>
<line x1="446.87" y1="157.35" x2="449.23" y2="157.35" stroke="#1a1a1a" stroke-width="0.9"/>
<rect x="452.55" y="178.69" width="4.3" height="35.11" fill="#e8950e"/>
<line x1="454.7" y1="178.69" x2="454.7" y2="172.42" stroke="#1a1a1a" stroke-width="0.9"/>
<line x1="453.52" y1="172.82" x2="455.88" y2="172.82" stroke="#1a1a1a" stroke-width="0.9"/>
<rect x="459.2" y="165.73" width="4.3" height="48.07" fill="#215f43"/>
<rect x="465.85" y="180.78" width="4.3" height="33.02" fill="#8b80c8"/>
<line x1="468" y1="180.78" x2="468" y2="177.85" stroke="#1a1a1a" stroke-width="0.9"/>
<line x1="466.82" y1="178.25" x2="469.18" y2="178.25" stroke="#1a1a1a" stroke-width="0.9"/>
<rect x="472.5" y="187.88" width="4.3" height="25.92" fill="#3e475f"/>
<line x1="474.65" y1="187.88" x2="474.65" y2="184.96" stroke="#1a1a1a" stroke-width="0.9"/>
<line x1="473.47" y1="185.36" x2="475.83" y2="185.36" stroke="#1a1a1a" stroke-width="0.9"/>
<line x1="367.15" y1="148.3" x2="367.15" y2="214.35" stroke="#111" stroke-width="1.1"/>
<line x1="366.6" y1="213.8" x2="479.9" y2="213.8" stroke="#111" stroke-width="1.1"/>
<line x1="364.15" y1="213.8" x2="367.15" y2="213.8" stroke="#1a1a1a" stroke-width="0.9"/>
<text x="360.55" y="216.1" font-size="6.6" text-anchor="end" fill="#333" stroke="#333" stroke-width="0.08">0.0</text>
<line x1="364.15" y1="192.9" x2="367.15" y2="192.9" stroke="#1a1a1a" stroke-width="0.9"/>
<text x="360.55" y="195.2" font-size="6.6" text-anchor="end" fill="#333" stroke="#333" stroke-width="0.08">0.5</text>
<line x1="364.15" y1="172" x2="367.15" y2="172" stroke="#1a1a1a" stroke-width="0.9"/>
<text x="360.55" y="174.3" font-size="6.6" text-anchor="end" fill="#333" stroke="#333" stroke-width="0.08">1.0</text>
<line x1="364.15" y1="151.1" x2="367.15" y2="151.1" stroke="#1a1a1a" stroke-width="0.9"/>
<text x="360.55" y="153.4" font-size="6.6" text-anchor="end" fill="#333" stroke="#333" stroke-width="0.08">1.5</text>
<line x1="385.75" y1="213.8" x2="385.75" y2="215.8" stroke="#1a1a1a" stroke-width="0.8"/>
<line x1="423.55" y1="213.8" x2="423.55" y2="215.8" stroke="#1a1a1a" stroke-width="0.8"/>
<line x1="461.35" y1="213.8" x2="461.35" y2="215.8" stroke="#1a1a1a" stroke-width="0.8"/>
<text x="386.05" y="226.2" font-size="6.8" text-anchor="middle" font-style="italic" fill="#333" stroke="#333" stroke-width="0.08" textLength="13" lengthAdjust="spacingAndGlyphs">JUN</text>
<text x="423.85" y="226.2" font-size="6.8" text-anchor="middle" font-style="italic" fill="#333" stroke="#333" stroke-width="0.08" textLength="16.8" lengthAdjust="spacingAndGlyphs">JUNB</text>
<text x="461.65" y="226.2" font-size="6.8" text-anchor="middle" font-style="italic" fill="#333" stroke="#333" stroke-width="0.08" textLength="17.9" lengthAdjust="spacingAndGlyphs">JUND</text>
<line x1="379.6" y1="183.8" x2="399.5" y2="183.8" stroke="#1a1a1a" stroke-width="0.9"/>
<text x="389.55" y="184.4" font-size="6.3" text-anchor="middle" stroke="#1a1a1a" stroke-width="0.08">**</text>
<text x="345.3" y="180.9" font-size="8.6" text-anchor="middle" fill="#222" stroke="#222" stroke-width="0.08" transform="rotate(-90 345.3 180.9)" textLength="76" lengthAdjust="spacingAndGlyphs">Norm. mRNA expression</text>
<rect x="483.9" y="164.8" width="6.9" height="3.2" fill="#481766"/>
<text x="493.8" y="168.4" font-size="5.8" fill="#3a3a3a" stroke-width="0">Solvent</text>
<rect x="483.9" y="172.1" width="6.9" height="3.2" fill="#e8950e"/>
<text x="493.8" y="175.7" font-size="5.8" fill="#3a3a3a" stroke-width="0">12 h</text>
<rect x="483.9" y="179.4" width="6.9" height="3.2" fill="#215f43"/>
<text x="493.8" y="183" font-size="5.8" fill="#3a3a3a" stroke-width="0">24 h</text>
<rect x="483.9" y="186.7" width="6.9" height="3.2" fill="#8b80c8"/>
<text x="493.8" y="190.3" font-size="5.8" fill="#3a3a3a" stroke-width="0">36 h</text>
<rect x="483.9" y="194" width="6.9" height="3.2" fill="#3e475f"/>
<text x="493.8" y="197.6" font-size="5.8" fill="#3a3a3a" stroke-width="0">48 h</text>
<text x="256.5" y="255.9" font-size="6.8" text-anchor="middle" fill="#333" stroke="#333" stroke-width="0.08" textLength="12.5" lengthAdjust="spacingAndGlyphs">JUN</text>
<rect x="213.1" y="284.5" width="5.7" height="41.9" fill="#481766"/>
<line x1="215.95" y1="284.5" x2="215.95" y2="276.12" stroke="#1a1a1a" stroke-width="0.9"/>
<line x1="214.38" y1="276.52" x2="217.52" y2="276.52" stroke="#1a1a1a" stroke-width="0.9"/>
<rect x="221.75" y="316.64" width="5.7" height="9.76" fill="#b5062e"/>
<line x1="224.6" y1="316.64" x2="224.6" y2="314.67" stroke="#1a1a1a" stroke-width="0.9"/>
<line x1="223.03" y1="315.07" x2="226.17" y2="315.07" stroke="#1a1a1a" stroke-width="0.9"/>
<rect x="230.4" y="311.11" width="5.7" height="15.29" fill="#264d8c"/>
<line x1="233.25" y1="311.11" x2="233.25" y2="307.54" stroke="#1a1a1a" stroke-width="0.9"/>
<line x1="231.68" y1="307.94" x2="234.82" y2="307.94" stroke="#1a1a1a" stroke-width="0.9"/>
<rect x="244.8" y="284.5" width="5.7" height="41.9" fill="#481766"/>
<line x1="247.65" y1="284.5" x2="247.65" y2="282.4" stroke="#1a1a1a" stroke-width="0.9"/>
<line x1="246.08" y1="282.8" x2="249.22" y2="282.8" stroke="#1a1a1a" stroke-width="0.9"/>
<rect x="253.45" y="305.87" width="5.7" height="20.53" fill="#b5062e"/>
<line x1="256.3" y1="305.87" x2="256.3" y2="300.42" stroke="#1a1a1a" stroke-width="0.9"/>
<line x1="254.73" y1="300.82" x2="257.87" y2="300.82" stroke="#1a1a1a" stroke-width="0.9"/>
<rect x="262.1" y="300.42" width="5.7" height="25.98" fill="#264d8c"/>
<line x1="264.95" y1="300.42" x2="264.95" y2="294.14" stroke="#1a1a1a" stroke-width="0.9"/>
<line x1="263.38" y1="294.54" x2="266.52" y2="294.54" stroke="#1a1a1a" stroke-width="0.9"/>
<rect x="276.5" y="284.5" width="5.7" height="41.9" fill="#481766"/>
<line x1="279.35" y1="284.5" x2="279.35" y2="282.4" stroke="#1a1a1a" stroke-width="0.9"/>
<line x1="277.78" y1="282.8" x2="280.92" y2="282.8" stroke="#1a1a1a" stroke-width="0.9"/>
<rect x="285.15" y="313.83" width="5.7" height="12.57" fill="#b5062e"/>
<line x1="288" y1="313.83" x2="288" y2="311.32" stroke="#1a1a1a" stroke-width="0.9"/>
<line x1="286.43" y1="311.72" x2="289.57" y2="311.72" stroke="#1a1a1a" stroke-width="0.9"/>
<rect x="293.8" y="309.64" width="5.7" height="16.76" fill="#264d8c"/>
<line x1="296.65" y1="309.64" x2="296.65" y2="306.29" stroke="#1a1a1a" stroke-width="0.9"/>
<line x1="295.08" y1="306.69" x2="298.22" y2="306.69" stroke="#1a1a1a" stroke-width="0.9"/>
<line x1="208.65" y1="260.6" x2="208.65" y2="326.95" stroke="#111" stroke-width="1.1"/>
<line x1="208.1" y1="326.4" x2="303.3" y2="326.4" stroke="#111" stroke-width="1.1"/>
<line x1="205.65" y1="326.4" x2="208.65" y2="326.4" stroke="#1a1a1a" stroke-width="0.9"/>
<text x="202.05" y="328.7" font-size="6.6" text-anchor="end" fill="#333" stroke="#333" stroke-width="0.08">0.0</text>
<line x1="205.65" y1="305.45" x2="208.65" y2="305.45" stroke="#1a1a1a" stroke-width="0.9"/>
<text x="202.05" y="307.75" font-size="6.6" text-anchor="end" fill="#333" stroke="#333" stroke-width="0.08">0.5</text>
<line x1="205.65" y1="284.5" x2="208.65" y2="284.5" stroke="#1a1a1a" stroke-width="0.9"/>
<text x="202.05" y="286.8" font-size="6.6" text-anchor="end" fill="#333" stroke="#333" stroke-width="0.08">1.0</text>
<line x1="205.65" y1="263.55" x2="208.65" y2="263.55" stroke="#1a1a1a" stroke-width="0.9"/>
<text x="202.05" y="265.85" font-size="6.6" text-anchor="end" fill="#333" stroke="#333" stroke-width="0.08">1.5</text>
<line x1="224.6" y1="326.4" x2="224.6" y2="328.4" stroke="#1a1a1a" stroke-width="0.8"/>
<line x1="256.3" y1="326.4" x2="256.3" y2="328.4" stroke="#1a1a1a" stroke-width="0.8"/>
<line x1="288" y1="326.4" x2="288" y2="328.4" stroke="#1a1a1a" stroke-width="0.8"/>
<text x="224.6" y="338.8" font-size="6.3" text-anchor="middle" fill="#333" stroke="#333" stroke-width="0.08">HBL-1</text>
<text x="256.3" y="338.8" font-size="6.3" text-anchor="middle" fill="#333" stroke="#333" stroke-width="0.08">TMD8</text>
<text x="288" y="338.8" font-size="6.3" text-anchor="middle" fill="#333" stroke="#333" stroke-width="0.08">OCI-Ly10</text>
<line x1="224.2" y1="300.4" x2="232.9" y2="300.4" stroke="#1a1a1a" stroke-width="0.9"/>
<text x="228.55" y="301" font-size="6.3" text-anchor="middle" stroke="#1a1a1a" stroke-width="0.08">***</text>
<line x1="256" y1="290" x2="265" y2="290" stroke="#1a1a1a" stroke-width="0.9"/>
<text x="260.5" y="290.6" font-size="6.3" text-anchor="middle" stroke="#1a1a1a" stroke-width="0.08">**</text>
<line x1="288" y1="300.4" x2="297" y2="300.4" stroke="#1a1a1a" stroke-width="0.9"/>
<text x="292.5" y="301" font-size="6.3" text-anchor="middle" stroke="#1a1a1a" stroke-width="0.08">***</text>
<text x="186.9" y="293.5" font-size="8.6" text-anchor="middle" fill="#222" stroke="#222" stroke-width="0.08" transform="rotate(-90 186.9 293.5)" textLength="76" lengthAdjust="spacingAndGlyphs">Norm. mRNA expression</text>
<text x="414.2" y="255.9" font-size="6.8" text-anchor="middle" font-style="italic" fill="#333" stroke="#333" stroke-width="0.08" textLength="13.3" lengthAdjust="spacingAndGlyphs">IL10</text>
<rect x="371.1" y="284.5" width="5.7" height="41.9" fill="#481766"/>
<line x1="373.95" y1="284.5" x2="373.95" y2="284.08" stroke="#1a1a1a" stroke-width="0.9"/>
<line x1="372.38" y1="284.48" x2="375.52" y2="284.48" stroke="#1a1a1a" stroke-width="0.9"/>
<rect x="379.75" y="311.94" width="5.7" height="14.46" fill="#b5062e"/>
<line x1="382.6" y1="311.94" x2="382.6" y2="307.96" stroke="#1a1a1a" stroke-width="0.9"/>
<line x1="381.03" y1="308.36" x2="384.17" y2="308.36" stroke="#1a1a1a" stroke-width="0.9"/>
<rect x="388.4" y="312.99" width="5.7" height="13.41" fill="#264d8c"/>
<line x1="391.25" y1="312.99" x2="391.25" y2="308.8" stroke="#1a1a1a" stroke-width="0.9"/>
<line x1="389.68" y1="309.2" x2="392.82" y2="309.2" stroke="#1a1a1a" stroke-width="0.9"/>
<rect x="402.8" y="284.5" width="5.7" height="41.9" fill="#481766"/>
<line x1="405.65" y1="284.5" x2="405.65" y2="280.31" stroke="#1a1a1a" stroke-width="0.9"/>
<line x1="404.08" y1="280.71" x2="407.22" y2="280.71" stroke="#1a1a1a" stroke-width="0.9"/>
<rect x="411.45" y="315.09" width="5.7" height="11.31" fill="#b5062e"/>
<line x1="414.3" y1="315.09" x2="414.3" y2="312.15" stroke="#1a1a1a" stroke-width="0.9"/>
<line x1="412.73" y1="312.55" x2="415.87" y2="312.55" stroke="#1a1a1a" stroke-width="0.9"/>
<rect x="420.1" y="318.44" width="5.7" height="7.96" fill="#264d8c"/>
<line x1="422.95" y1="318.44" x2="422.95" y2="317.6" stroke="#1a1a1a" stroke-width="0.9"/>
<line x1="421.38" y1="318" x2="424.52" y2="318" stroke="#1a1a1a" stroke-width="0.9"/>
<rect x="434.5" y="284.5" width="5.7" height="41.9" fill="#481766"/>
<rect x="443.15" y="324.3" width="5.7" height="2.1" fill="#b5062e"/>
<line x1="446" y1="324.3" x2="446" y2="323.89" stroke="#1a1a1a" stroke-width="0.9"/>
<line x1="444.43" y1="324.29" x2="447.57" y2="324.29" stroke="#1a1a1a" stroke-width="0.9"/>
<rect x="451.8" y="324.72" width="5.7" height="1.68" fill="#264d8c"/>
<line x1="454.65" y1="324.72" x2="454.65" y2="323.05" stroke="#1a1a1a" stroke-width="0.9"/>
<line x1="453.08" y1="323.45" x2="456.22" y2="323.45" stroke="#1a1a1a" stroke-width="0.9"/>
<line x1="366.65" y1="260.6" x2="366.65" y2="326.95" stroke="#111" stroke-width="1.1"/>
<line x1="366.1" y1="326.4" x2="461.3" y2="326.4" stroke="#111" stroke-width="1.1"/>
<line x1="363.65" y1="326.4" x2="366.65" y2="326.4" stroke="#1a1a1a" stroke-width="0.9"/>
<text x="360.05" y="328.7" font-size="6.6" text-anchor="end" fill="#333" stroke="#333" stroke-width="0.08">0.0</text>
<line x1="363.65" y1="305.45" x2="366.65" y2="305.45" stroke="#1a1a1a" stroke-width="0.9"/>
<text x="360.05" y="307.75" font-size="6.6" text-anchor="end" fill="#333" stroke="#333" stroke-width="0.08">0.5</text>
<line x1="363.65" y1="284.5" x2="366.65" y2="284.5" stroke="#1a1a1a" stroke-width="0.9"/>
<text x="360.05" y="286.8" font-size="6.6" text-anchor="end" fill="#333" stroke="#333" stroke-width="0.08">1.0</text>
<line x1="363.65" y1="263.55" x2="366.65" y2="263.55" stroke="#1a1a1a" stroke-width="0.9"/>
<text x="360.05" y="265.85" font-size="6.6" text-anchor="end" fill="#333" stroke="#333" stroke-width="0.08">1.5</text>
<line x1="382.6" y1="326.4" x2="382.6" y2="328.4" stroke="#1a1a1a" stroke-width="0.8"/>
<line x1="414.3" y1="326.4" x2="414.3" y2="328.4" stroke="#1a1a1a" stroke-width="0.8"/>
<line x1="446" y1="326.4" x2="446" y2="328.4" stroke="#1a1a1a" stroke-width="0.8"/>
<text x="382.6" y="338.8" font-size="6.3" text-anchor="middle" fill="#333" stroke="#333" stroke-width="0.08">HBL-1</text>
<text x="414.3" y="338.8" font-size="6.3" text-anchor="middle" fill="#333" stroke="#333" stroke-width="0.08">TMD8</text>
<text x="446" y="338.8" font-size="6.3" text-anchor="middle" fill="#333" stroke="#333" stroke-width="0.08">OCI-Ly10</text>
<line x1="383.2" y1="302" x2="391.8" y2="302" stroke="#1a1a1a" stroke-width="0.9"/>
<text x="387.5" y="302.6" font-size="6.3" text-anchor="middle" stroke="#1a1a1a" stroke-width="0.08">***</text>
<line x1="414.5" y1="304.4" x2="423.2" y2="304.4" stroke="#1a1a1a" stroke-width="0.9"/>
<text x="418.85" y="305" font-size="6.3" text-anchor="middle" stroke="#1a1a1a" stroke-width="0.08">**</text>
<line x1="446" y1="314" x2="455" y2="314" stroke="#1a1a1a" stroke-width="0.9"/>
<text x="450.5" y="314.6" font-size="6.3" text-anchor="middle" stroke="#1a1a1a" stroke-width="0.08">***</text>
<text x="344.9" y="293.5" font-size="8.6" text-anchor="middle" fill="#222" stroke="#222" stroke-width="0.08" transform="rotate(-90 344.9 293.5)" textLength="76" lengthAdjust="spacingAndGlyphs">Norm. mRNA expression</text>
<rect x="483.9" y="283.2" width="6.9" height="3.2" fill="#481766"/>
<text x="493.8" y="286.8" font-size="5.8" fill="#3a3a3a" stroke-width="0">Solvent</text>
<rect x="483.9" y="291.9" width="6.9" height="3.2" fill="#b5062e"/>
<text x="493.8" y="295.5" font-size="5.8" fill="#3a3a3a" stroke-width="0">CsA</text>
<rect x="483.9" y="300.6" width="6.9" height="3.2" fill="#264d8c"/>
<text x="493.8" y="304.2" font-size="5.8" fill="#3a3a3a" stroke-width="0">FK506</text>
<rect x="38.8" y="402.2" width="3.5" height="47.9" fill="#254b8e"/>
<line x1="40.55" y1="402.2" x2="40.55" y2="397.41" stroke="#1a1a1a" stroke-width="0.9"/>
<line x1="39.55" y1="397.81" x2="41.55" y2="397.81" stroke="#1a1a1a" stroke-width="0.9"/>
<rect x="43.8" y="402.2" width="3.5" height="47.9" fill="#b5082d"/>
<line x1="45.55" y1="402.2" x2="45.55" y2="400.76" stroke="#1a1a1a" stroke-width="0.9"/>
<line x1="44.55" y1="401.16" x2="46.55" y2="401.16" stroke="#1a1a1a" stroke-width="0.9"/>
<rect x="52.2" y="416.57" width="3.5" height="33.53" fill="#254b8e"/>
<line x1="53.95" y1="416.57" x2="53.95" y2="413.22" stroke="#1a1a1a" stroke-width="0.9"/>
<line x1="52.95" y1="413.62" x2="54.95" y2="413.62" stroke="#1a1a1a" stroke-width="0.9"/>
<rect x="57.2" y="422.8" width="3.5" height="27.3" fill="#b5082d"/>
<line x1="58.95" y1="422.8" x2="58.95" y2="421.36" stroke="#1a1a1a" stroke-width="0.9"/>
<line x1="57.95" y1="421.76" x2="59.95" y2="421.76" stroke="#1a1a1a" stroke-width="0.9"/>
<rect x="65.6" y="415.13" width="3.5" height="34.97" fill="#254b8e"/>
<line x1="67.35" y1="415.13" x2="67.35" y2="412.74" stroke="#1a1a1a" stroke-width="0.9"/>
<line x1="66.35" y1="413.14" x2="68.35" y2="413.14" stroke="#1a1a1a" stroke-width="0.9"/>
<rect x="70.6" y="427.11" width="3.5" height="22.99" fill="#b5082d"/>
<line x1="72.35" y1="427.11" x2="72.35" y2="424.23" stroke="#1a1a1a" stroke-width="0.9"/>
<line x1="71.35" y1="424.63" x2="73.35" y2="424.63" stroke="#1a1a1a" stroke-width="0.9"/>
<rect x="79" y="418.01" width="3.5" height="32.09" fill="#254b8e"/>
<line x1="80.75" y1="418.01" x2="80.75" y2="413.22" stroke="#1a1a1a" stroke-width="0.9"/>
<line x1="79.75" y1="413.62" x2="81.75" y2="413.62" stroke="#1a1a1a" stroke-width="0.9"/>
<rect x="84" y="430.46" width="3.5" height="19.64" fill="#b5082d"/>
<line x1="85.75" y1="430.46" x2="85.75" y2="429.02" stroke="#1a1a1a" stroke-width="0.9"/>
<line x1="84.75" y1="429.42" x2="86.75" y2="429.42" stroke="#1a1a1a" stroke-width="0.9"/>
<rect x="92.4" y="427.59" width="3.5" height="22.51" fill="#254b8e"/>
<line x1="94.15" y1="427.59" x2="94.15" y2="426.15" stroke="#1a1a1a" stroke-width="0.9"/>
<line x1="93.15" y1="426.55" x2="95.15" y2="426.55" stroke="#1a1a1a" stroke-width="0.9"/>
<rect x="97.4" y="432.38" width="3.5" height="17.72" fill="#b5082d"/>
<line x1="99.15" y1="432.38" x2="99.15" y2="431.9" stroke="#1a1a1a" stroke-width="0.9"/>
<line x1="98.15" y1="432.3" x2="100.15" y2="432.3" stroke="#1a1a1a" stroke-width="0.9"/>
<rect x="105.8" y="429.5" width="3.5" height="20.6" fill="#254b8e"/>
<line x1="107.55" y1="429.5" x2="107.55" y2="428.07" stroke="#1a1a1a" stroke-width="0.9"/>
<line x1="106.55" y1="428.47" x2="108.55" y2="428.47" stroke="#1a1a1a" stroke-width="0.9"/>
<rect x="110.8" y="431.9" width="3.5" height="18.2" fill="#b5082d"/>
<line x1="112.55" y1="431.9" x2="112.55" y2="430.94" stroke="#1a1a1a" stroke-width="0.9"/>
<line x1="111.55" y1="431.34" x2="113.55" y2="431.34" stroke="#1a1a1a" stroke-width="0.9"/>
<rect x="119.2" y="429.98" width="3.5" height="20.12" fill="#254b8e"/>
<line x1="120.95" y1="429.98" x2="120.95" y2="425.67" stroke="#1a1a1a" stroke-width="0.9"/>
<line x1="119.95" y1="426.07" x2="121.95" y2="426.07" stroke="#1a1a1a" stroke-width="0.9"/>
<rect x="124.2" y="434.77" width="3.5" height="15.33" fill="#b5082d"/>
<line x1="125.95" y1="434.77" x2="125.95" y2="433.81" stroke="#1a1a1a" stroke-width="0.9"/>
<line x1="124.95" y1="434.21" x2="126.95" y2="434.21" stroke="#1a1a1a" stroke-width="0.9"/>
<rect x="132.6" y="434.29" width="3.5" height="15.81" fill="#254b8e"/>
<line x1="134.35" y1="434.29" x2="134.35" y2="430.94" stroke="#1a1a1a" stroke-width="0.9"/>
<line x1="133.35" y1="431.34" x2="135.35" y2="431.34" stroke="#1a1a1a" stroke-width="0.9"/>
<rect x="137.6" y="435.73" width="3.5" height="14.37" fill="#b5082d"/>
<line x1="139.35" y1="435.73" x2="139.35" y2="435.25" stroke="#1a1a1a" stroke-width="0.9"/>
<line x1="138.35" y1="435.65" x2="140.35" y2="435.65" stroke="#1a1a1a" stroke-width="0.9"/>
<line x1="36.2" y1="375.8" x2="36.2" y2="450.65" stroke="#111" stroke-width="1.1"/>
<line x1="35.65" y1="450.1" x2="144.2" y2="450.1" stroke="#111" stroke-width="1.1"/>
<line x1="33.2" y1="450.1" x2="36.2" y2="450.1" stroke="#1a1a1a" stroke-width="0.9"/>
<text x="30.2" y="452.4" font-size="6.9" text-anchor="end" fill="#333" stroke="#333" stroke-width="0.08">0.0</text>
<line x1="33.2" y1="426.15" x2="36.2" y2="426.15" stroke="#1a1a1a" stroke-width="0.9"/>
<text x="30.2" y="428.45" font-size="6.9" text-anchor="end" fill="#333" stroke="#333" stroke-width="0.08">0.5</text>
<line x1="33.2" y1="402.2" x2="36.2" y2="402.2" stroke="#1a1a1a" stroke-width="0.9"/>
<text x="30.2" y="404.5" font-size="6.9" text-anchor="end" fill="#333" stroke="#333" stroke-width="0.08">1.0</text>
<line x1="33.2" y1="378.25" x2="36.2" y2="378.25" stroke="#1a1a1a" stroke-width="0.9"/>
<text x="30.2" y="380.55" font-size="6.9" text-anchor="end" fill="#333" stroke="#333" stroke-width="0.08">1.5</text>
<line x1="43.05" y1="450.1" x2="43.05" y2="452.1" stroke="#1a1a1a" stroke-width="0.8"/>
<line x1="56.45" y1="450.1" x2="56.45" y2="452.1" stroke="#1a1a1a" stroke-width="0.8"/>
<line x1="69.85" y1="450.1" x2="69.85" y2="452.1" stroke="#1a1a1a" stroke-width="0.8"/>
<line x1="83.25" y1="450.1" x2="83.25" y2="452.1" stroke="#1a1a1a" stroke-width="0.8"/>
<line x1="96.65" y1="450.1" x2="96.65" y2="452.1" stroke="#1a1a1a" stroke-width="0.8"/>
<line x1="110.05" y1="450.1" x2="110.05" y2="452.1" stroke="#1a1a1a" stroke-width="0.8"/>
<line x1="123.45" y1="450.1" x2="123.45" y2="452.1" stroke="#1a1a1a" stroke-width="0.8"/>
<line x1="136.85" y1="450.1" x2="136.85" y2="452.1" stroke="#1a1a1a" stroke-width="0.8"/>
<line x1="36.5" y1="371.9" x2="144.2" y2="371.9" stroke="#1a1a1a" stroke-width="1"/>
<text x="90.2" y="369.1" font-size="6.7" text-anchor="middle" fill="#222" stroke="#222" stroke-width="0.08" textLength="18.3" lengthAdjust="spacingAndGlyphs">HBL-1</text>
<text x="46.05" y="460.2" font-size="7" text-anchor="end" fill="#333" stroke="#333" stroke-width="0.08" transform="rotate(-45 46.05 460.2)">Solvent</text>
<text x="59.45" y="460.2" font-size="7" text-anchor="end" fill="#333" stroke="#333" stroke-width="0.08" transform="rotate(-45 59.45 460.2)">0.04</text>
<text x="72.85" y="460.2" font-size="7" text-anchor="end" fill="#333" stroke="#333" stroke-width="0.08" transform="rotate(-45 72.85 460.2)">0.08</text>
<text x="86.25" y="460.2" font-size="7" text-anchor="end" fill="#333" stroke="#333" stroke-width="0.08" transform="rotate(-45 86.25 460.2)">0.16</text>
<text x="99.65" y="460.2" font-size="7" text-anchor="end" fill="#333" stroke="#333" stroke-width="0.08" transform="rotate(-45 99.65 460.2)">0.32</text>
<text x="113.05" y="460.2" font-size="7" text-anchor="end" fill="#333" stroke="#333" stroke-width="0.08" transform="rotate(-45 113.05 460.2)">0.63</text>
<text x="126.45" y="460.2" font-size="7" text-anchor="end" fill="#333" stroke="#333" stroke-width="0.08" transform="rotate(-45 126.45 460.2)">1.25</text>
<text x="139.85" y="460.2" font-size="7" text-anchor="end" fill="#333" stroke="#333" stroke-width="0.08" transform="rotate(-45 139.85 460.2)">2.5</text>
<text x="90.2" y="482.2" font-size="9.6" text-anchor="middle" fill="#333" stroke="#333" stroke-width="0.08" textLength="28.3" lengthAdjust="spacingAndGlyphs">CsA [μM]</text>
<text x="15.2" y="412.6" font-size="9.1" text-anchor="middle" fill="#222" stroke="#222" stroke-width="0.08" transform="rotate(-90 15.2 412.6)" textLength="67" lengthAdjust="spacingAndGlyphs">Normalized secretion</text>
<rect x="191.8" y="402.2" width="3.5" height="47.9" fill="#254b8e"/>
<line x1="193.55" y1="402.2" x2="193.55" y2="401.24" stroke="#1a1a1a" stroke-width="0.9"/>
<line x1="192.55" y1="401.64" x2="194.55" y2="401.64" stroke="#1a1a1a" stroke-width="0.9"/>
<rect x="196.8" y="402.2" width="3.5" height="47.9" fill="#b5082d"/>
<line x1="198.55" y1="402.2" x2="198.55" y2="397.41" stroke="#1a1a1a" stroke-width="0.9"/>
<line x1="197.55" y1="397.81" x2="199.55" y2="397.81" stroke="#1a1a1a" stroke-width="0.9"/>
<rect x="205.2" y="417.29" width="3.5" height="32.81" fill="#254b8e"/>
<line x1="206.95" y1="417.29" x2="206.95" y2="414.18" stroke="#1a1a1a" stroke-width="0.9"/>
<line x1="205.95" y1="414.57" x2="207.95" y2="414.57" stroke="#1a1a1a" stroke-width="0.9"/>
<rect x="210.2" y="429.5" width="3.5" height="20.6" fill="#b5082d"/>
<line x1="211.95" y1="429.5" x2="211.95" y2="427.59" stroke="#1a1a1a" stroke-width="0.9"/>
<line x1="210.95" y1="427.99" x2="212.95" y2="427.99" stroke="#1a1a1a" stroke-width="0.9"/>
<rect x="218.6" y="419.44" width="3.5" height="30.66" fill="#254b8e"/>
<rect x="223.6" y="433.81" width="3.5" height="16.29" fill="#b5082d"/>
<line x1="225.35" y1="433.81" x2="225.35" y2="432.86" stroke="#1a1a1a" stroke-width="0.9"/>
<line x1="224.35" y1="433.26" x2="226.35" y2="433.26" stroke="#1a1a1a" stroke-width="0.9"/>
<rect x="232" y="424.71" width="3.5" height="25.39" fill="#254b8e"/>
<line x1="233.75" y1="424.71" x2="233.75" y2="421.84" stroke="#1a1a1a" stroke-width="0.9"/>
<line x1="232.75" y1="422.24" x2="234.75" y2="422.24" stroke="#1a1a1a" stroke-width="0.9"/>
<rect x="237" y="440.52" width="3.5" height="9.58" fill="#b5082d"/>
<line x1="238.75" y1="440.52" x2="238.75" y2="440.04" stroke="#1a1a1a" stroke-width="0.9"/>
<line x1="237.75" y1="440.44" x2="239.75" y2="440.44" stroke="#1a1a1a" stroke-width="0.9"/>
<rect x="245.4" y="429.5" width="3.5" height="20.6" fill="#254b8e"/>
<line x1="247.15" y1="429.5" x2="247.15" y2="427.11" stroke="#1a1a1a" stroke-width="0.9"/>
<line x1="246.15" y1="427.51" x2="248.15" y2="427.51" stroke="#1a1a1a" stroke-width="0.9"/>
<rect x="250.4" y="436.93" width="3.5" height="13.17" fill="#b5082d"/>
<rect x="258.8" y="427.59" width="3.5" height="22.51" fill="#254b8e"/>
<line x1="260.55" y1="427.59" x2="260.55" y2="425.19" stroke="#1a1a1a" stroke-width="0.9"/>
<line x1="259.55" y1="425.59" x2="261.55" y2="425.59" stroke="#1a1a1a" stroke-width="0.9"/>
<rect x="263.8" y="438.36" width="3.5" height="11.74" fill="#b5082d"/>
<rect x="272.2" y="429.02" width="3.5" height="21.08" fill="#254b8e"/>
<line x1="273.95" y1="429.02" x2="273.95" y2="427.59" stroke="#1a1a1a" stroke-width="0.9"/>
<line x1="272.95" y1="427.99" x2="274.95" y2="427.99" stroke="#1a1a1a" stroke-width="0.9"/>
<rect x="277.2" y="438.84" width="3.5" height="11.26" fill="#b5082d"/>
<line x1="278.95" y1="438.84" x2="278.95" y2="438.36" stroke="#1a1a1a" stroke-width="0.9"/>
<line x1="277.95" y1="438.76" x2="279.95" y2="438.76" stroke="#1a1a1a" stroke-width="0.9"/>
<rect x="285.6" y="426.15" width="3.5" height="23.95" fill="#254b8e"/>
<line x1="287.35" y1="426.15" x2="287.35" y2="424.71" stroke="#1a1a1a" stroke-width="0.9"/>
<line x1="286.35" y1="425.11" x2="288.35" y2="425.11" stroke="#1a1a1a" stroke-width="0.9"/>
<rect x="290.6" y="438.12" width="3.5" height="11.98" fill="#b5082d"/>
<line x1="292.35" y1="438.12" x2="292.35" y2="437.65" stroke="#1a1a1a" stroke-width="0.9"/>
<line x1="291.35" y1="438.05" x2="293.35" y2="438.05" stroke="#1a1a1a" stroke-width="0.9"/>
<line x1="189.2" y1="375.8" x2="189.2" y2="450.65" stroke="#111" stroke-width="1.1"/>
<line x1="188.65" y1="450.1" x2="297.2" y2="450.1" stroke="#111" stroke-width="1.1"/>
<line x1="186.2" y1="450.1" x2="189.2" y2="450.1" stroke="#1a1a1a" stroke-width="0.9"/>
<text x="183.2" y="452.4" font-size="6.9" text-anchor="end" fill="#333" stroke="#333" stroke-width="0.08">0.0</text>
<line x1="186.2" y1="426.15" x2="189.2" y2="426.15" stroke="#1a1a1a" stroke-width="0.9"/>
<text x="183.2" y="428.45" font-size="6.9" text-anchor="end" fill="#333" stroke="#333" stroke-width="0.08">0.5</text>
<line x1="186.2" y1="402.2" x2="189.2" y2="402.2" stroke="#1a1a1a" stroke-width="0.9"/>
<text x="183.2" y="404.5" font-size="6.9" text-anchor="end" fill="#333" stroke="#333" stroke-width="0.08">1.0</text>
<line x1="186.2" y1="378.25" x2="189.2" y2="378.25" stroke="#1a1a1a" stroke-width="0.9"/>
<text x="183.2" y="380.55" font-size="6.9" text-anchor="end" fill="#333" stroke="#333" stroke-width="0.08">1.5</text>
<line x1="196.05" y1="450.1" x2="196.05" y2="452.1" stroke="#1a1a1a" stroke-width="0.8"/>
<line x1="209.45" y1="450.1" x2="209.45" y2="452.1" stroke="#1a1a1a" stroke-width="0.8"/>
<line x1="222.85" y1="450.1" x2="222.85" y2="452.1" stroke="#1a1a1a" stroke-width="0.8"/>
<line x1="236.25" y1="450.1" x2="236.25" y2="452.1" stroke="#1a1a1a" stroke-width="0.8"/>
<line x1="249.65" y1="450.1" x2="249.65" y2="452.1" stroke="#1a1a1a" stroke-width="0.8"/>
<line x1="263.05" y1="450.1" x2="263.05" y2="452.1" stroke="#1a1a1a" stroke-width="0.8"/>
<line x1="276.45" y1="450.1" x2="276.45" y2="452.1" stroke="#1a1a1a" stroke-width="0.8"/>
<line x1="289.85" y1="450.1" x2="289.85" y2="452.1" stroke="#1a1a1a" stroke-width="0.8"/>
<line x1="189.5" y1="371.9" x2="297.2" y2="371.9" stroke="#1a1a1a" stroke-width="1"/>
<text x="243.2" y="369.1" font-size="6.7" text-anchor="middle" fill="#222" stroke="#222" stroke-width="0.08" textLength="18" lengthAdjust="spacingAndGlyphs">TMD8</text>
<text x="199.05" y="460.2" font-size="7" text-anchor="end" fill="#333" stroke="#333" stroke-width="0.08" transform="rotate(-45 199.05 460.2)">Solvent</text>
<text x="212.45" y="460.2" font-size="7" text-anchor="end" fill="#333" stroke="#333" stroke-width="0.08" transform="rotate(-45 212.45 460.2)">0.04</text>
<text x="225.85" y="460.2" font-size="7" text-anchor="end" fill="#333" stroke="#333" stroke-width="0.08" transform="rotate(-45 225.85 460.2)">0.08</text>
<text x="239.25" y="460.2" font-size="7" text-anchor="end" fill="#333" stroke="#333" stroke-width="0.08" transform="rotate(-45 239.25 460.2)">0.16</text>
<text x="252.65" y="460.2" font-size="7" text-anchor="end" fill="#333" stroke="#333" stroke-width="0.08" transform="rotate(-45 252.65 460.2)">0.32</text>
<text x="266.05" y="460.2" font-size="7" text-anchor="end" fill="#333" stroke="#333" stroke-width="0.08" transform="rotate(-45 266.05 460.2)">0.63</text>
<text x="279.45" y="460.2" font-size="7" text-anchor="end" fill="#333" stroke="#333" stroke-width="0.08" transform="rotate(-45 279.45 460.2)">1.25</text>
<text x="292.85" y="460.2" font-size="7" text-anchor="end" fill="#333" stroke="#333" stroke-width="0.08" transform="rotate(-45 292.85 460.2)">2.5</text>
<text x="243.2" y="482.2" font-size="9.6" text-anchor="middle" fill="#333" stroke="#333" stroke-width="0.08" textLength="28.3" lengthAdjust="spacingAndGlyphs">CsA [μM]</text>
<text x="168.2" y="412.6" font-size="9.1" text-anchor="middle" fill="#222" stroke="#222" stroke-width="0.08" transform="rotate(-90 168.2 412.6)" textLength="67" lengthAdjust="spacingAndGlyphs">Normalized secretion</text>
<rect x="345.1" y="414.15" width="3.5" height="35.95" fill="#254b8e"/>
<line x1="346.85" y1="414.15" x2="346.85" y2="410.91" stroke="#1a1a1a" stroke-width="0.9"/>
<line x1="345.85" y1="411.31" x2="347.85" y2="411.31" stroke="#1a1a1a" stroke-width="0.9"/>
<rect x="350.1" y="414.15" width="3.5" height="35.95" fill="#b5082d"/>
<line x1="351.85" y1="414.15" x2="351.85" y2="410.91" stroke="#1a1a1a" stroke-width="0.9"/>
<line x1="350.85" y1="411.31" x2="352.85" y2="411.31" stroke="#1a1a1a" stroke-width="0.9"/>
<rect x="358.5" y="419.54" width="3.5" height="30.56" fill="#254b8e"/>
<line x1="360.25" y1="419.54" x2="360.25" y2="417.75" stroke="#1a1a1a" stroke-width="0.9"/>
<line x1="359.25" y1="418.14" x2="361.25" y2="418.14" stroke="#1a1a1a" stroke-width="0.9"/>
<rect x="363.5" y="416.31" width="3.5" height="33.79" fill="#b5082d"/>
<rect x="371.9" y="417.75" width="3.5" height="32.36" fill="#254b8e"/>
<line x1="373.65" y1="417.75" x2="373.65" y2="417.03" stroke="#1a1a1a" stroke-width="0.9"/>
<line x1="372.65" y1="417.43" x2="374.65" y2="417.43" stroke="#1a1a1a" stroke-width="0.9"/>
<rect x="376.9" y="415.95" width="3.5" height="34.15" fill="#b5082d"/>
<line x1="378.65" y1="415.95" x2="378.65" y2="411.99" stroke="#1a1a1a" stroke-width="0.9"/>
<line x1="377.65" y1="412.39" x2="379.65" y2="412.39" stroke="#1a1a1a" stroke-width="0.9"/>
<rect x="385.3" y="411.99" width="3.5" height="38.11" fill="#254b8e"/>
<line x1="387.05" y1="411.99" x2="387.05" y2="410.2" stroke="#1a1a1a" stroke-width="0.9"/>
<line x1="386.05" y1="410.6" x2="388.05" y2="410.6" stroke="#1a1a1a" stroke-width="0.9"/>
<rect x="390.3" y="416.67" width="3.5" height="33.43" fill="#b5082d"/>
<line x1="392.05" y1="416.67" x2="392.05" y2="415.23" stroke="#1a1a1a" stroke-width="0.9"/>
<line x1="391.05" y1="415.63" x2="393.05" y2="415.63" stroke="#1a1a1a" stroke-width="0.9"/>
<rect x="398.7" y="412.71" width="3.5" height="37.39" fill="#254b8e"/>
<line x1="400.45" y1="412.71" x2="400.45" y2="409.48" stroke="#1a1a1a" stroke-width="0.9"/>
<line x1="399.45" y1="409.88" x2="401.45" y2="409.88" stroke="#1a1a1a" stroke-width="0.9"/>
<rect x="403.7" y="413.43" width="3.5" height="36.67" fill="#b5082d"/>
<line x1="405.45" y1="413.43" x2="405.45" y2="409.48" stroke="#1a1a1a" stroke-width="0.9"/>
<line x1="404.45" y1="409.88" x2="406.45" y2="409.88" stroke="#1a1a1a" stroke-width="0.9"/>
<rect x="412.1" y="405.16" width="3.5" height="44.94" fill="#254b8e"/>
<line x1="413.85" y1="405.16" x2="413.85" y2="397.61" stroke="#1a1a1a" stroke-width="0.9"/>
<line x1="412.85" y1="398.01" x2="414.85" y2="398.01" stroke="#1a1a1a" stroke-width="0.9"/>
<rect x="417.1" y="412.71" width="3.5" height="37.39" fill="#b5082d"/>
<line x1="418.85" y1="412.71" x2="418.85" y2="407.68" stroke="#1a1a1a" stroke-width="0.9"/>
<line x1="417.85" y1="408.08" x2="419.85" y2="408.08" stroke="#1a1a1a" stroke-width="0.9"/>
<rect x="425.5" y="405.16" width="3.5" height="44.94" fill="#254b8e"/>
<line x1="427.25" y1="405.16" x2="427.25" y2="401.21" stroke="#1a1a1a" stroke-width="0.9"/>
<line x1="426.25" y1="401.61" x2="428.25" y2="401.61" stroke="#1a1a1a" stroke-width="0.9"/>
<rect x="430.5" y="420.62" width="3.5" height="29.48" fill="#b5082d"/>
<line x1="432.25" y1="420.62" x2="432.25" y2="418.46" stroke="#1a1a1a" stroke-width="0.9"/>
<line x1="431.25" y1="418.86" x2="433.25" y2="418.86" stroke="#1a1a1a" stroke-width="0.9"/>
<rect x="438.9" y="406.96" width="3.5" height="43.14" fill="#254b8e"/>
<line x1="440.65" y1="406.96" x2="440.65" y2="401.93" stroke="#1a1a1a" stroke-width="0.9"/>
<line x1="439.65" y1="402.33" x2="441.65" y2="402.33" stroke="#1a1a1a" stroke-width="0.9"/>
<rect x="443.9" y="418.1" width="3.5" height="32" fill="#b5082d"/>
<line x1="445.65" y1="418.1" x2="445.65" y2="413.79" stroke="#1a1a1a" stroke-width="0.9"/>
<line x1="444.65" y1="414.19" x2="446.65" y2="414.19" stroke="#1a1a1a" stroke-width="0.9"/>
<line x1="342.5" y1="375.8" x2="342.5" y2="450.65" stroke="#111" stroke-width="1.1"/>
<line x1="341.95" y1="450.1" x2="450" y2="450.1" stroke="#111" stroke-width="1.1"/>
<line x1="339.5" y1="450.1" x2="342.5" y2="450.1" stroke="#1a1a1a" stroke-width="0.9"/>
<text x="336.5" y="452.4" font-size="6.9" text-anchor="end" fill="#333" stroke="#333" stroke-width="0.08">0.0</text>
<line x1="339.5" y1="432.12" x2="342.5" y2="432.12" stroke="#1a1a1a" stroke-width="0.9"/>
<text x="336.5" y="434.43" font-size="6.9" text-anchor="end" fill="#333" stroke="#333" stroke-width="0.08">0.5</text>
<line x1="339.5" y1="414.15" x2="342.5" y2="414.15" stroke="#1a1a1a" stroke-width="0.9"/>
<text x="336.5" y="416.45" font-size="6.9" text-anchor="end" fill="#333" stroke="#333" stroke-width="0.08">1.0</text>
<line x1="339.5" y1="396.18" x2="342.5" y2="396.18" stroke="#1a1a1a" stroke-width="0.9"/>
<text x="336.5" y="398.48" font-size="6.9" text-anchor="end" fill="#333" stroke="#333" stroke-width="0.08">1.5</text>
<line x1="339.5" y1="378.2" x2="342.5" y2="378.2" stroke="#1a1a1a" stroke-width="0.9"/>
<text x="336.5" y="380.5" font-size="6.9" text-anchor="end" fill="#333" stroke="#333" stroke-width="0.08">2.0</text>
<line x1="349.35" y1="450.1" x2="349.35" y2="452.1" stroke="#1a1a1a" stroke-width="0.8"/>
<line x1="362.75" y1="450.1" x2="362.75" y2="452.1" stroke="#1a1a1a" stroke-width="0.8"/>
<line x1="376.15" y1="450.1" x2="376.15" y2="452.1" stroke="#1a1a1a" stroke-width="0.8"/>
<line x1="389.55" y1="450.1" x2="389.55" y2="452.1" stroke="#1a1a1a" stroke-width="0.8"/>
<line x1="402.95" y1="450.1" x2="402.95" y2="452.1" stroke="#1a1a1a" stroke-width="0.8"/>
<line x1="416.35" y1="450.1" x2="416.35" y2="452.1" stroke="#1a1a1a" stroke-width="0.8"/>
<line x1="429.75" y1="450.1" x2="429.75" y2="452.1" stroke="#1a1a1a" stroke-width="0.8"/>
<line x1="443.15" y1="450.1" x2="443.15" y2="452.1" stroke="#1a1a1a" stroke-width="0.8"/>
<line x1="342.8" y1="371.9" x2="450" y2="371.9" stroke="#1a1a1a" stroke-width="1"/>
<text x="396.25" y="369.1" font-size="6.7" text-anchor="middle" fill="#222" stroke="#222" stroke-width="0.08" textLength="24.6" lengthAdjust="spacingAndGlyphs">OCI-Ly3</text>
<text x="352.35" y="460.2" font-size="7" text-anchor="end" fill="#333" stroke="#333" stroke-width="0.08" transform="rotate(-45 352.35 460.2)">Solvent</text>
<text x="365.75" y="460.2" font-size="7" text-anchor="end" fill="#333" stroke="#333" stroke-width="0.08" transform="rotate(-45 365.75 460.2)">0.04</text>
<text x="379.15" y="460.2" font-size="7" text-anchor="end" fill="#333" stroke="#333" stroke-width="0.08" transform="rotate(-45 379.15 460.2)">0.08</text>
<text x="392.55" y="460.2" font-size="7" text-anchor="end" fill="#333" stroke="#333" stroke-width="0.08" transform="rotate(-45 392.55 460.2)">0.16</text>
<text x="405.95" y="460.2" font-size="7" text-anchor="end" fill="#333" stroke="#333" stroke-width="0.08" transform="rotate(-45 405.95 460.2)">0.32</text>
<text x="419.35" y="460.2" font-size="7" text-anchor="end" fill="#333" stroke="#333" stroke-width="0.08" transform="rotate(-45 419.35 460.2)">0.63</text>
<text x="432.75" y="460.2" font-size="7" text-anchor="end" fill="#333" stroke="#333" stroke-width="0.08" transform="rotate(-45 432.75 460.2)">1.25</text>
<text x="446.15" y="460.2" font-size="7" text-anchor="end" fill="#333" stroke="#333" stroke-width="0.08" transform="rotate(-45 446.15 460.2)">2.5</text>
<text x="396.25" y="482.2" font-size="9.6" text-anchor="middle" fill="#333" stroke="#333" stroke-width="0.08" textLength="28.3" lengthAdjust="spacingAndGlyphs">CsA [μM]</text>
<text x="321.5" y="412.6" font-size="9.1" text-anchor="middle" fill="#222" stroke="#222" stroke-width="0.08" transform="rotate(-90 321.5 412.6)" textLength="67" lengthAdjust="spacingAndGlyphs">Normalized secretion</text>
<rect x="459.6" y="406" width="7.9" height="3.9" fill="#254b8e"/>
<text x="470.2" y="409.95" font-size="5.8" fill="#3a3a3a" stroke-width="0">IL-6</text>
<rect x="459.6" y="415.5" width="7.9" height="3.9" fill="#b5082d"/>
<text x="470.2" y="419.45" font-size="5.8" fill="#3a3a3a" stroke-width="0">IL-10</text>
<defs><filter id="bl" x="-20%" y="-100%" width="140%" height="300%"><feGaussianBlur stdDeviation="0.7"/></filter><filter id="bl2" x="-20%" y="-50%" width="140%" height="200%"><feGaussianBlur stdDeviation="1.6"/></filter></defs>
<text x="32.2" y="545.9" font-size="6.9" text-anchor="end" fill="#222" stroke="#222" stroke-width="0.08" textLength="24.9" lengthAdjust="spacingAndGlyphs">P-STAT3</text>
<rect x="35.8" y="535" width="42.4" height="17" fill="#d9d9d9"/>
<rect x="83" y="535" width="42.4" height="17" fill="#d9d9d9"/>
<rect x="130" y="535" width="42.4" height="17" fill="#d9d9d9"/>
<rect x="178.2" y="535" width="42.4" height="17" fill="#d9d9d9"/>
<rect x="225" y="535" width="42.4" height="17" fill="#d9d9d9"/>
<text x="32.2" y="563.2" font-size="6.9" text-anchor="end" fill="#222" stroke="#222" stroke-width="0.08" textLength="18.5" lengthAdjust="spacingAndGlyphs">STAT3</text>
<rect x="35.8" y="554.8" width="42.4" height="12" fill="#d9d9d9"/>
<rect x="83" y="554.8" width="42.4" height="12" fill="#d9d9d9"/>
<rect x="130" y="554.8" width="42.4" height="12" fill="#d9d9d9"/>
<rect x="178.2" y="554.8" width="42.4" height="12" fill="#d9d9d9"/>
<rect x="225" y="554.8" width="42.4" height="12" fill="#d9d9d9"/>
<text x="32.2" y="579.1" font-size="6.9" text-anchor="end" fill="#222" stroke="#222" stroke-width="0.08" textLength="16.1" lengthAdjust="spacingAndGlyphs">c-Jun</text>
<rect x="35.8" y="569.4" width="42.4" height="14.6" fill="#d9d9d9"/>
<rect x="83" y="569.4" width="42.4" height="14.6" fill="#d9d9d9"/>
<rect x="130" y="569.4" width="42.4" height="14.6" fill="#d9d9d9"/>
<rect x="178.2" y="569.4" width="42.4" height="14.6" fill="#d9d9d9"/>
<rect x="225" y="569.4" width="42.4" height="14.6" fill="#d9d9d9"/>
<text x="32.2" y="595.8" font-size="6.9" text-anchor="end" fill="#222" stroke="#222" stroke-width="0.08" textLength="14.8" lengthAdjust="spacingAndGlyphs">JunB</text>
<rect x="35.8" y="586.4" width="42.4" height="14" fill="#d9d9d9"/>
<rect x="83" y="586.4" width="42.4" height="14" fill="#d9d9d9"/>
<rect x="130" y="586.4" width="42.4" height="14" fill="#d9d9d9"/>
<rect x="178.2" y="586.4" width="42.4" height="14" fill="#d9d9d9"/>
<rect x="225" y="586.4" width="42.4" height="14" fill="#d9d9d9"/>
<text x="32.2" y="611.25" font-size="6.9" text-anchor="end" fill="#222" stroke="#222" stroke-width="0.08" textLength="15.6" lengthAdjust="spacingAndGlyphs">JunD</text>
<rect x="35.8" y="602.8" width="42.4" height="12.1" fill="#d9d9d9"/>
<rect x="83" y="602.8" width="42.4" height="12.1" fill="#d9d9d9"/>
<rect x="130" y="602.8" width="42.4" height="12.1" fill="#d9d9d9"/>
<rect x="178.2" y="602.8" width="42.4" height="12.1" fill="#d9d9d9"/>
<rect x="225" y="602.8" width="42.4" height="12.1" fill="#d9d9d9"/>
<text x="32.2" y="633.1" font-size="6.9" text-anchor="end" fill="#222" stroke="#222" stroke-width="0.08" textLength="22.5" lengthAdjust="spacingAndGlyphs">NFATc1</text>
<rect x="35.8" y="617.2" width="42.4" height="25.4" fill="#d9d9d9"/>
<rect x="83" y="617.2" width="42.4" height="25.4" fill="#d9d9d9"/>
<rect x="130" y="617.2" width="42.4" height="25.4" fill="#d9d9d9"/>
<rect x="178.2" y="617.2" width="42.4" height="25.4" fill="#d9d9d9"/>
<rect x="225" y="617.2" width="42.4" height="25.4" fill="#d9d9d9"/>
<text x="32.2" y="658.9" font-size="6.9" text-anchor="end" fill="#222" stroke="#222" stroke-width="0.08" textLength="22.5" lengthAdjust="spacingAndGlyphs">NFATc2</text>
<rect x="35.8" y="645.5" width="42.4" height="19.6" fill="#d9d9d9"/>
<rect x="83" y="645.5" width="42.4" height="19.6" fill="#d9d9d9"/>
<rect x="130" y="645.5" width="42.4" height="19.6" fill="#d9d9d9"/>
<rect x="178.2" y="645.5" width="42.4" height="19.6" fill="#d9d9d9"/>
<rect x="225" y="645.5" width="42.4" height="19.6" fill="#d9d9d9"/>
<text x="32.2" y="677.5" font-size="6.9" text-anchor="end" fill="#222" stroke="#222" stroke-width="0.08" textLength="21.3" lengthAdjust="spacingAndGlyphs">Tubulin</text>
<rect x="35.8" y="667.7" width="42.4" height="14.8" fill="#d9d9d9"/>
<rect x="83" y="667.7" width="42.4" height="14.8" fill="#d9d9d9"/>
<rect x="130" y="667.7" width="42.4" height="14.8" fill="#d9d9d9"/>
<rect x="178.2" y="667.7" width="42.4" height="14.8" fill="#d9d9d9"/>
<rect x="225" y="667.7" width="42.4" height="14.8" fill="#d9d9d9"/>
<text x="57" y="512.8" font-size="6.6" text-anchor="middle" fill="#222" stroke="#222" stroke-width="0.08">HBL-1</text>
<line x1="38.1" y1="516.3" x2="76.2" y2="516.3" stroke="#1a1a1a" stroke-width="1.2"/>
<text x="56.3" y="524" font-size="7.4" text-anchor="middle" fill="#222" stroke="#222" stroke-width="0.08">+</text>
<text x="71.1" y="531.9" font-size="7.4" text-anchor="middle" fill="#222" stroke="#222" stroke-width="0.08">+</text>
<text x="104.2" y="512.8" font-size="6.6" text-anchor="middle" fill="#222" stroke="#222" stroke-width="0.08">TMD8</text>
<line x1="85.3" y1="516.3" x2="123.4" y2="516.3" stroke="#1a1a1a" stroke-width="1.2"/>
<text x="103.5" y="524" font-size="7.4" text-anchor="middle" fill="#222" stroke="#222" stroke-width="0.08">+</text>
<text x="118.3" y="531.9" font-size="7.4" text-anchor="middle" fill="#222" stroke="#222" stroke-width="0.08">+</text>
<text x="151.2" y="512.8" font-size="6.6" text-anchor="middle" fill="#222" stroke="#222" stroke-width="0.08">OCI-Ly10</text>
<line x1="132.3" y1="516.3" x2="170.4" y2="516.3" stroke="#1a1a1a" stroke-width="1.2"/>
<text x="150.5" y="524" font-size="7.4" text-anchor="middle" fill="#222" stroke="#222" stroke-width="0.08">+</text>
<text x="165.3" y="531.9" font-size="7.4" text-anchor="middle" fill="#222" stroke="#222" stroke-width="0.08">+</text>
<text x="199.4" y="512.8" font-size="6.6" text-anchor="middle" fill="#222" stroke="#222" stroke-width="0.08">U2932</text>
<line x1="180.5" y1="516.3" x2="218.6" y2="516.3" stroke="#1a1a1a" stroke-width="1.2"/>
<text x="198.7" y="524" font-size="7.4" text-anchor="middle" fill="#222" stroke="#222" stroke-width="0.08">+</text>
<text x="213.5" y="531.9" font-size="7.4" text-anchor="middle" fill="#222" stroke="#222" stroke-width="0.08">+</text>
<text x="246.2" y="512.8" font-size="6.6" text-anchor="middle" fill="#222" stroke="#222" stroke-width="0.08">OCI-Ly3</text>
<line x1="227.3" y1="516.3" x2="265.4" y2="516.3" stroke="#1a1a1a" stroke-width="1.2"/>
<text x="245.5" y="524" font-size="7.4" text-anchor="middle" fill="#222" stroke="#222" stroke-width="0.08">+</text>
<text x="260.3" y="531.9" font-size="7.4" text-anchor="middle" fill="#222" stroke="#222" stroke-width="0.08">+</text>
<text x="32.2" y="523.7" font-size="6.9" text-anchor="end" fill="#222" stroke="#222" stroke-width="0.08" textLength="12.1" lengthAdjust="spacingAndGlyphs">CsA</text>
<text x="32.2" y="531.6" font-size="6.9" text-anchor="end" fill="#222" stroke="#222" stroke-width="0.08" textLength="19" lengthAdjust="spacingAndGlyphs">FK506</text>
<rect x="36.75" y="540.81" width="12.9" height="1.98" rx="0.99" fill="#000" fill-opacity="0.68" filter="url(#bl)"/>
<rect x="50.15" y="540.81" width="12.9" height="1.98" rx="0.99" fill="#000" fill-opacity="0.09" filter="url(#bl)"/>
<rect x="64.25" y="540.81" width="12.9" height="1.98" rx="0.99" fill="#000" fill-opacity="0.32" filter="url(#bl)"/>
<rect x="36.75" y="543.91" width="12.9" height="1.98" rx="0.99" fill="#000" fill-opacity="0.68" filter="url(#bl)"/>
<rect x="50.15" y="543.91" width="12.9" height="1.98" rx="0.99" fill="#000" fill-opacity="0.09" filter="url(#bl)"/>
<rect x="64.25" y="543.91" width="12.9" height="1.98" rx="0.99" fill="#000" fill-opacity="0.32" filter="url(#bl)"/>
<rect x="36.75" y="559.01" width="12.9" height="1.98" rx="0.99" fill="#000" fill-opacity="0.63" filter="url(#bl)"/>
<rect x="50.15" y="559.01" width="12.9" height="1.98" rx="0.99" fill="#000" fill-opacity="0.54" filter="url(#bl)"/>
<rect x="64.25" y="559.01" width="12.9" height="1.98" rx="0.99" fill="#000" fill-opacity="0.59" filter="url(#bl)"/>
<rect x="36.75" y="562" width="12.9" height="1.21" rx="0.61" fill="#000" fill-opacity="0.18" filter="url(#bl)"/>
<rect x="50.15" y="562" width="12.9" height="1.21" rx="0.61" fill="#000" fill-opacity="0.11" filter="url(#bl)"/>
<rect x="64.25" y="562" width="12.9" height="1.21" rx="0.61" fill="#000" fill-opacity="0.11" filter="url(#bl)"/>
<rect x="36.75" y="576.61" width="12.9" height="1.98" rx="0.99" fill="#000" fill-opacity="0.36" filter="url(#bl)"/>
<rect x="50.15" y="576.61" width="12.9" height="1.98" rx="0.99" fill="#000" fill-opacity="0.11" filter="url(#bl)"/>
<rect x="64.25" y="576.61" width="12.9" height="1.98" rx="0.99" fill="#000" fill-opacity="0.16" filter="url(#bl)"/>
<rect x="36.75" y="590.02" width="12.9" height="2.75" rx="1.38" fill="#000" fill-opacity="0.85" filter="url(#bl)"/>
<rect x="50.15" y="590.02" width="12.9" height="2.75" rx="1.38" fill="#000" fill-opacity="0.85" filter="url(#bl)"/>
<rect x="64.25" y="590.02" width="12.9" height="2.75" rx="1.38" fill="#000" fill-opacity="0.85" filter="url(#bl)"/>
<rect x="36.75" y="593.41" width="12.9" height="1.98" rx="0.99" fill="#000" fill-opacity="0.77" filter="url(#bl)"/>
<rect x="50.15" y="593.41" width="12.9" height="1.98" rx="0.99" fill="#000" fill-opacity="0.77" filter="url(#bl)"/>
<rect x="64.25" y="593.41" width="12.9" height="1.98" rx="0.99" fill="#000" fill-opacity="0.77" filter="url(#bl)"/>
<rect x="36.75" y="597.17" width="12.9" height="1.65" rx="0.83" fill="#000" fill-opacity="0.14" filter="url(#bl)"/>
<rect x="50.15" y="597.17" width="12.9" height="1.65" rx="0.83" fill="#000" fill-opacity="0.14" filter="url(#bl)"/>
<rect x="64.25" y="597.17" width="12.9" height="1.65" rx="0.83" fill="#000" fill-opacity="0.18" filter="url(#bl)"/>
<rect x="36.75" y="605.56" width="12.9" height="3.08" rx="1.54" fill="#000" fill-opacity="0.85" filter="url(#bl)"/>
<rect x="50.15" y="605.56" width="12.9" height="3.08" rx="1.54" fill="#000" fill-opacity="0.81" filter="url(#bl)"/>
<rect x="64.25" y="605.56" width="12.9" height="3.08" rx="1.54" fill="#000" fill-opacity="0.85" filter="url(#bl)"/>
<rect x="36.75" y="611.64" width="12.9" height="1.32" rx="0.66" fill="#000" fill-opacity="0.09" filter="url(#bl)"/>
<rect x="50.15" y="611.64" width="12.9" height="1.32" rx="0.66" fill="#000" fill-opacity="0.09" filter="url(#bl)"/>
<rect x="64.25" y="611.64" width="12.9" height="1.32" rx="0.66" fill="#000" fill-opacity="0.09" filter="url(#bl)"/>
<rect x="36.75" y="624.59" width="12.9" height="2.42" rx="1.21" fill="#000" fill-opacity="0.63" filter="url(#bl)"/>
<rect x="36.75" y="630.27" width="12.9" height="2.86" rx="1.43" fill="#000" fill-opacity="0.81" filter="url(#bl)"/>
<rect x="36.75" y="634.83" width="12.9" height="2.75" rx="1.38" fill="#000" fill-opacity="0.68" filter="url(#bl)"/>
<rect x="50.15" y="621.38" width="12.9" height="1.65" rx="0.83" fill="#000" fill-opacity="0.27" filter="url(#bl)"/>
<rect x="64.25" y="621.38" width="12.9" height="1.65" rx="0.83" fill="#000" fill-opacity="0.27" filter="url(#bl)"/>
<rect x="50.15" y="626.01" width="12.9" height="1.98" rx="0.99" fill="#000" fill-opacity="0.5" filter="url(#bl)"/>
<rect x="64.25" y="626.01" width="12.9" height="1.98" rx="0.99" fill="#000" fill-opacity="0.41" filter="url(#bl)"/>
<rect x="50.15" y="630.64" width="12.9" height="1.32" rx="0.66" fill="#000" fill-opacity="0.14" filter="url(#bl)"/>
<rect x="64.25" y="630.64" width="12.9" height="1.32" rx="0.66" fill="#000" fill-opacity="0.14" filter="url(#bl)"/>
<rect x="36.6" y="657.2" width="13.2" height="4.4" rx="2" fill="#000" fill-opacity="0.9" filter="url(#bl)"/>
<rect x="50.15" y="653.88" width="12.9" height="1.65" rx="0.83" fill="#000" fill-opacity="0.81" filter="url(#bl)"/>
<rect x="64.25" y="653.88" width="12.9" height="1.65" rx="0.83" fill="#000" fill-opacity="0.77" filter="url(#bl)"/>
<rect x="36.75" y="674.4" width="12.9" height="2.2" rx="1.1" fill="#000" fill-opacity="0.77" filter="url(#bl)"/>
<rect x="50.15" y="674.4" width="12.9" height="2.2" rx="1.1" fill="#000" fill-opacity="0.77" filter="url(#bl)"/>
<rect x="64.25" y="674.4" width="12.9" height="2.2" rx="1.1" fill="#000" fill-opacity="0.77" filter="url(#bl)"/>
<rect x="83.95" y="541.91" width="12.9" height="1.98" rx="0.99" fill="#000" fill-opacity="0.72" filter="url(#bl)"/>
<rect x="97.35" y="541.91" width="12.9" height="1.98" rx="0.99" fill="#000" fill-opacity="0.05" filter="url(#bl)"/>
<rect x="83.95" y="545.31" width="12.9" height="1.98" rx="0.99" fill="#000" fill-opacity="0.77" filter="url(#bl)"/>
<rect x="97.35" y="545.31" width="12.9" height="1.98" rx="0.99" fill="#000" fill-opacity="0.05" filter="url(#bl)"/>
<rect x="111.45" y="540.62" width="12.9" height="1.76" rx="0.88" fill="#000" fill-opacity="0.32" filter="url(#bl)"/>
<rect x="111.45" y="544.12" width="12.9" height="1.76" rx="0.88" fill="#000" fill-opacity="0.32" filter="url(#bl)"/>
<rect x="83.95" y="558.59" width="12.9" height="2.42" rx="1.21" fill="#000" fill-opacity="0.81" filter="url(#bl)"/>
<rect x="97.35" y="558.59" width="12.9" height="2.42" rx="1.21" fill="#000" fill-opacity="0.72" filter="url(#bl)"/>
<rect x="111.45" y="558.59" width="12.9" height="2.42" rx="1.21" fill="#000" fill-opacity="0.77" filter="url(#bl)"/>
<rect x="83.95" y="562.28" width="12.9" height="1.43" rx="0.72" fill="#000" fill-opacity="0.36" filter="url(#bl)"/>
<rect x="97.35" y="562.28" width="12.9" height="1.43" rx="0.72" fill="#000" fill-opacity="0.27" filter="url(#bl)"/>
<rect x="111.45" y="562.28" width="12.9" height="1.43" rx="0.72" fill="#000" fill-opacity="0.27" filter="url(#bl)"/>
<rect x="83.95" y="577.4" width="12.9" height="2.2" rx="1.1" fill="#000" fill-opacity="0.81" filter="url(#bl)"/>
<rect x="97.35" y="577.4" width="12.9" height="2.2" rx="1.1" fill="#000" fill-opacity="0.27" filter="url(#bl)"/>
<rect x="111.45" y="577.4" width="12.9" height="2.2" rx="1.1" fill="#000" fill-opacity="0.41" filter="url(#bl)"/>
<rect x="83.95" y="590.62" width="12.9" height="2.75" rx="1.38" fill="#000" fill-opacity="0.85" filter="url(#bl)"/>
<rect x="97.35" y="590.62" width="12.9" height="2.75" rx="1.38" fill="#000" fill-opacity="0.85" filter="url(#bl)"/>
<rect x="111.45" y="590.62" width="12.9" height="2.75" rx="1.38" fill="#000" fill-opacity="0.85" filter="url(#bl)"/>
<rect x="83.95" y="594.81" width="12.9" height="1.98" rx="0.99" fill="#000" fill-opacity="0.54" filter="url(#bl)"/>
<rect x="97.35" y="594.81" width="12.9" height="1.98" rx="0.99" fill="#000" fill-opacity="0.5" filter="url(#bl)"/>
<rect x="111.45" y="594.81" width="12.9" height="1.98" rx="0.99" fill="#000" fill-opacity="0.54" filter="url(#bl)"/>
<rect x="83.95" y="605.33" width="12.9" height="2.75" rx="1.38" fill="#000" fill-opacity="0.85" filter="url(#bl)"/>
<rect x="97.35" y="605.33" width="12.9" height="2.75" rx="1.38" fill="#000" fill-opacity="0.81" filter="url(#bl)"/>
<rect x="111.45" y="605.33" width="12.9" height="2.75" rx="1.38" fill="#000" fill-opacity="0.81" filter="url(#bl)"/>
<rect x="83.95" y="622" width="12.9" height="11" rx="2" fill="#000" fill-opacity="0.81" filter="url(#bl2)"/>
<rect x="83.95" y="629.33" width="12.9" height="2.75" rx="1.38" fill="#000" fill-opacity="0.81" filter="url(#bl)"/>
<rect x="83.95" y="634.67" width="12.9" height="1.65" rx="0.83" fill="#000" fill-opacity="0.45" filter="url(#bl)"/>
<rect x="97.35" y="621.28" width="12.9" height="1.43" rx="0.72" fill="#000" fill-opacity="0.27" filter="url(#bl)"/>
<rect x="111.45" y="621.28" width="12.9" height="1.43" rx="0.72" fill="#000" fill-opacity="0.27" filter="url(#bl)"/>
<rect x="97.35" y="626.1" width="12.9" height="2.2" rx="1.1" fill="#000" fill-opacity="0.5" filter="url(#bl)"/>
<rect x="111.45" y="626.1" width="12.9" height="2.2" rx="1.1" fill="#000" fill-opacity="0.63" filter="url(#bl)"/>
<rect x="83.95" y="654" width="12.9" height="2.2" rx="1.1" fill="#000" fill-opacity="0.85" filter="url(#bl)"/>
<rect x="83.95" y="658.21" width="12.9" height="1.98" rx="0.99" fill="#000" fill-opacity="0.45" filter="url(#bl)"/>
<rect x="97.35" y="653.71" width="12.9" height="1.98" rx="0.99" fill="#000" fill-opacity="0.85" filter="url(#bl)"/>
<rect x="111.45" y="653.71" width="12.9" height="1.98" rx="0.99" fill="#000" fill-opacity="0.85" filter="url(#bl)"/>
<rect x="83.95" y="674.91" width="12.9" height="1.98" rx="0.99" fill="#000" fill-opacity="0.68" filter="url(#bl)"/>
<rect x="97.35" y="674.91" width="12.9" height="1.98" rx="0.99" fill="#000" fill-opacity="0.68" filter="url(#bl)"/>
<rect x="111.45" y="674.91" width="12.9" height="1.98" rx="0.99" fill="#000" fill-opacity="0.68" filter="url(#bl)"/>
<rect x="130.95" y="540.79" width="12.9" height="2.42" rx="1.21" fill="#000" fill-opacity="0.9" filter="url(#bl)"/>
<rect x="144.35" y="540.79" width="12.9" height="2.42" rx="1.21" fill="#000" fill-opacity="0.14" filter="url(#bl)"/>
<rect x="130.95" y="544.41" width="12.9" height="1.98" rx="0.99" fill="#000" fill-opacity="0.81" filter="url(#bl)"/>
<rect x="158.45" y="538.83" width="12.9" height="1.54" rx="0.77" fill="#000" fill-opacity="0.14" filter="url(#bl)"/>
<rect x="130.95" y="558.7" width="12.9" height="2.2" rx="1.1" fill="#000" fill-opacity="0.77" filter="url(#bl)"/>
<rect x="144.35" y="558.7" width="12.9" height="2.2" rx="1.1" fill="#000" fill-opacity="0.63" filter="url(#bl)"/>
<rect x="158.45" y="558.7" width="12.9" height="2.2" rx="1.1" fill="#000" fill-opacity="0.68" filter="url(#bl)"/>
<rect x="130.95" y="561.95" width="12.9" height="1.1" rx="0.55" fill="#000" fill-opacity="0.27" filter="url(#bl)"/>
<rect x="144.35" y="561.95" width="12.9" height="1.1" rx="0.55" fill="#000" fill-opacity="0.23" filter="url(#bl)"/>
<rect x="158.45" y="561.95" width="12.9" height="1.1" rx="0.55" fill="#000" fill-opacity="0.23" filter="url(#bl)"/>
<rect x="130.95" y="575.6" width="12.9" height="2.2" rx="1.1" fill="#000" fill-opacity="0.81" filter="url(#bl)"/>
<rect x="144.35" y="575.6" width="12.9" height="2.2" rx="1.1" fill="#000" fill-opacity="0.05" filter="url(#bl)"/>
<rect x="158.45" y="575.6" width="12.9" height="2.2" rx="1.1" fill="#000" fill-opacity="0.05" filter="url(#bl)"/>
<rect x="130.95" y="591.29" width="12.9" height="2.42" rx="1.21" fill="#000" fill-opacity="0.81" filter="url(#bl)"/>
<rect x="144.35" y="591.29" width="12.9" height="2.42" rx="1.21" fill="#000" fill-opacity="0.81" filter="url(#bl)"/>
<rect x="158.45" y="591.29" width="12.9" height="2.42" rx="1.21" fill="#000" fill-opacity="0.81" filter="url(#bl)"/>
<rect x="130.95" y="594.57" width="12.9" height="1.65" rx="0.83" fill="#000" fill-opacity="0.54" filter="url(#bl)"/>
<rect x="144.35" y="594.57" width="12.9" height="1.65" rx="0.83" fill="#000" fill-opacity="0.45" filter="url(#bl)"/>
<rect x="158.45" y="594.57" width="12.9" height="1.65" rx="0.83" fill="#000" fill-opacity="0.36" filter="url(#bl)"/>
<rect x="130.95" y="605.79" width="12.9" height="2.42" rx="1.21" fill="#000" fill-opacity="0.85" filter="url(#bl)"/>
<rect x="144.35" y="605.79" width="12.9" height="2.42" rx="1.21" fill="#000" fill-opacity="0.54" filter="url(#bl)"/>
<rect x="158.45" y="605.79" width="12.9" height="2.42" rx="1.21" fill="#000" fill-opacity="0.63" filter="url(#bl)"/>
<rect x="130.95" y="631.21" width="12.9" height="1.98" rx="0.99" fill="#000" fill-opacity="0.59" filter="url(#bl)"/>
<rect x="130.95" y="634.4" width="12.9" height="2.2" rx="1.1" fill="#000" fill-opacity="0.63" filter="url(#bl)"/>
<rect x="144.35" y="621.94" width="12.9" height="1.32" rx="0.66" fill="#000" fill-opacity="0.18" filter="url(#bl)"/>
<rect x="158.45" y="621.94" width="12.9" height="1.32" rx="0.66" fill="#000" fill-opacity="0.18" filter="url(#bl)"/>
<rect x="144.35" y="626.81" width="12.9" height="1.98" rx="0.99" fill="#000" fill-opacity="0.36" filter="url(#bl)"/>
<rect x="158.45" y="626.81" width="12.9" height="1.98" rx="0.99" fill="#000" fill-opacity="0.36" filter="url(#bl)"/>
<rect x="144.35" y="630.34" width="12.9" height="1.32" rx="0.66" fill="#000" fill-opacity="0.18" filter="url(#bl)"/>
<rect x="158.45" y="630.34" width="12.9" height="1.32" rx="0.66" fill="#000" fill-opacity="0.18" filter="url(#bl)"/>
<rect x="130.95" y="654.11" width="12.9" height="1.98" rx="0.99" fill="#000" fill-opacity="0.72" filter="url(#bl)"/>
<rect x="130.95" y="658.49" width="12.9" height="1.43" rx="0.72" fill="#000" fill-opacity="0.27" filter="url(#bl)"/>
<rect x="144.35" y="653.88" width="12.9" height="1.65" rx="0.83" fill="#000" fill-opacity="0.54" filter="url(#bl)"/>
<rect x="158.45" y="653.88" width="12.9" height="1.65" rx="0.83" fill="#000" fill-opacity="0.54" filter="url(#bl)"/>
<rect x="130.4" y="672.85" width="14" height="3.3" rx="1.65" fill="#000" fill-opacity="0.9" filter="url(#bl)"/>
<rect x="143.8" y="672.85" width="14" height="3.3" rx="1.65" fill="#000" fill-opacity="0.9" filter="url(#bl)"/>
<rect x="157.9" y="672.85" width="14" height="3.3" rx="1.65" fill="#000" fill-opacity="0.9" filter="url(#bl)"/>
<rect x="179.15" y="541.11" width="12.9" height="1.98" rx="0.99" fill="#000" fill-opacity="0.68" filter="url(#bl)"/>
<rect x="192.55" y="541.11" width="12.9" height="1.98" rx="0.99" fill="#000" fill-opacity="0.18" filter="url(#bl)"/>
<rect x="206.65" y="541.11" width="12.9" height="1.98" rx="0.99" fill="#000" fill-opacity="0.18" filter="url(#bl)"/>
<rect x="179.15" y="544.41" width="12.9" height="1.98" rx="0.99" fill="#000" fill-opacity="0.68" filter="url(#bl)"/>
<rect x="192.55" y="544.41" width="12.9" height="1.98" rx="0.99" fill="#000" fill-opacity="0.18" filter="url(#bl)"/>
<rect x="206.65" y="544.41" width="12.9" height="1.98" rx="0.99" fill="#000" fill-opacity="0.23" filter="url(#bl)"/>
<rect x="179.15" y="559.41" width="12.9" height="1.98" rx="0.99" fill="#000" fill-opacity="0.45" filter="url(#bl)"/>
<rect x="192.55" y="559.41" width="12.9" height="1.98" rx="0.99" fill="#000" fill-opacity="0.45" filter="url(#bl)"/>
<rect x="206.65" y="559.41" width="12.9" height="1.98" rx="0.99" fill="#000" fill-opacity="0.41" filter="url(#bl)"/>
<rect x="179.15" y="577.51" width="12.9" height="1.98" rx="0.99" fill="#000" fill-opacity="0.77" filter="url(#bl)"/>
<rect x="192.55" y="577.51" width="12.9" height="1.98" rx="0.99" fill="#000" fill-opacity="0.36" filter="url(#bl)"/>
<rect x="206.65" y="577.51" width="12.9" height="1.98" rx="0.99" fill="#000" fill-opacity="0.45" filter="url(#bl)"/>
<rect x="179.15" y="589.92" width="12.9" height="7.15" rx="2" fill="#000" fill-opacity="0.9" filter="url(#bl2)"/>
<rect x="179.15" y="590.48" width="12.9" height="6.05" rx="2" fill="#000" fill-opacity="0.54" filter="url(#bl)"/>
<rect x="192.55" y="591.4" width="12.9" height="2.2" rx="1.1" fill="#000" fill-opacity="0.81" filter="url(#bl)"/>
<rect x="206.65" y="591.4" width="12.9" height="2.2" rx="1.1" fill="#000" fill-opacity="0.81" filter="url(#bl)"/>
<rect x="192.55" y="594.41" width="12.9" height="1.98" rx="0.99" fill="#000" fill-opacity="0.81" filter="url(#bl)"/>
<rect x="206.65" y="594.41" width="12.9" height="1.98" rx="0.99" fill="#000" fill-opacity="0.81" filter="url(#bl)"/>
<rect x="179.15" y="597.64" width="12.9" height="1.32" rx="0.66" fill="#000" fill-opacity="0.45" filter="url(#bl)"/>
<rect x="192.55" y="597.64" width="12.9" height="1.32" rx="0.66" fill="#000" fill-opacity="0.36" filter="url(#bl)"/>
<rect x="206.65" y="597.64" width="12.9" height="1.32" rx="0.66" fill="#000" fill-opacity="0.36" filter="url(#bl)"/>
<rect x="179.15" y="606.23" width="12.9" height="2.75" rx="1.38" fill="#000" fill-opacity="0.77" filter="url(#bl)"/>
<rect x="192.55" y="606.23" width="12.9" height="2.75" rx="1.38" fill="#000" fill-opacity="0.68" filter="url(#bl)"/>
<rect x="206.65" y="606.23" width="12.9" height="2.75" rx="1.38" fill="#000" fill-opacity="0.72" filter="url(#bl)"/>
<rect x="179.15" y="621.9" width="12.9" height="2.2" rx="1.1" fill="#000" fill-opacity="0.77" filter="url(#bl)"/>
<rect x="179.15" y="626.97" width="12.9" height="1.65" rx="0.83" fill="#000" fill-opacity="0.54" filter="url(#bl)"/>
<rect x="179.15" y="629.33" width="12.9" height="2.75" rx="1.38" fill="#000" fill-opacity="0.85" filter="url(#bl)"/>
<rect x="179.15" y="633.12" width="12.9" height="2.75" rx="1.38" fill="#000" fill-opacity="0.77" filter="url(#bl)"/>
<rect x="179.15" y="635.67" width="12.9" height="1.65" rx="0.83" fill="#000" fill-opacity="0.54" filter="url(#bl)"/>
<rect x="192.55" y="619.01" width="12.9" height="1.98" rx="0.99" fill="#000" fill-opacity="0.63" filter="url(#bl)"/>
<rect x="206.65" y="619.01" width="12.9" height="1.98" rx="0.99" fill="#000" fill-opacity="0.63" filter="url(#bl)"/>
<rect x="192.55" y="622.9" width="12.9" height="2.2" rx="1.1" fill="#000" fill-opacity="0.68" filter="url(#bl)"/>
<rect x="206.65" y="622.9" width="12.9" height="2.2" rx="1.1" fill="#000" fill-opacity="0.68" filter="url(#bl)"/>
<rect x="192.55" y="627.81" width="12.9" height="1.98" rx="0.99" fill="#000" fill-opacity="0.45" filter="url(#bl)"/>
<rect x="206.65" y="627.81" width="12.9" height="1.98" rx="0.99" fill="#000" fill-opacity="0.45" filter="url(#bl)"/>
<rect x="179.15" y="653.31" width="12.9" height="1.98" rx="0.99" fill="#000" fill-opacity="0.72" filter="url(#bl)"/>
<rect x="192.55" y="653.31" width="12.9" height="1.98" rx="0.99" fill="#000" fill-opacity="0.81" filter="url(#bl)"/>
<rect x="206.65" y="653.31" width="12.9" height="1.98" rx="0.99" fill="#000" fill-opacity="0.81" filter="url(#bl)"/>
<rect x="179.15" y="658.29" width="12.9" height="2.42" rx="1.21" fill="#000" fill-opacity="0.85" filter="url(#bl)"/>
<rect x="179.15" y="674.12" width="12.9" height="2.75" rx="1.38" fill="#000" fill-opacity="0.85" filter="url(#bl)"/>
<rect x="192.55" y="674.12" width="12.9" height="2.75" rx="1.38" fill="#000" fill-opacity="0.9" filter="url(#bl)"/>
<rect x="206.65" y="674.12" width="12.9" height="2.75" rx="1.38" fill="#000" fill-opacity="0.85" filter="url(#bl)"/>
<rect x="225.95" y="540.01" width="12.9" height="1.98" rx="0.99" fill="#000" fill-opacity="0.68" filter="url(#bl)"/>
<rect x="239.35" y="540.01" width="12.9" height="1.98" rx="0.99" fill="#000" fill-opacity="0.54" filter="url(#bl)"/>
<rect x="253.45" y="540.01" width="12.9" height="1.98" rx="0.99" fill="#000" fill-opacity="0.5" filter="url(#bl)"/>
<rect x="225.95" y="543.81" width="12.9" height="1.98" rx="0.99" fill="#000" fill-opacity="0.63" filter="url(#bl)"/>
<rect x="239.35" y="543.81" width="12.9" height="1.98" rx="0.99" fill="#000" fill-opacity="0.5" filter="url(#bl)"/>
<rect x="253.45" y="543.81" width="12.9" height="1.98" rx="0.99" fill="#000" fill-opacity="0.45" filter="url(#bl)"/>
<rect x="225.95" y="558.59" width="12.9" height="2.42" rx="1.21" fill="#000" fill-opacity="0.85" filter="url(#bl)"/>
<rect x="239.35" y="558.59" width="12.9" height="2.42" rx="1.21" fill="#000" fill-opacity="0.81" filter="url(#bl)"/>
<rect x="253.45" y="558.59" width="12.9" height="2.42" rx="1.21" fill="#000" fill-opacity="0.81" filter="url(#bl)"/>
<rect x="225.95" y="575.12" width="12.9" height="2.75" rx="1.38" fill="#000" fill-opacity="0.9" filter="url(#bl)"/>
<rect x="239.35" y="576.51" width="12.9" height="1.98" rx="0.99" fill="#000" fill-opacity="0.77" filter="url(#bl)"/>
<rect x="253.45" y="576.51" width="12.9" height="1.98" rx="0.99" fill="#000" fill-opacity="0.77" filter="url(#bl)"/>
<rect x="225.95" y="591.29" width="12.9" height="2.42" rx="1.21" fill="#000" fill-opacity="0.85" filter="url(#bl)"/>
<rect x="239.35" y="591.29" width="12.9" height="2.42" rx="1.21" fill="#000" fill-opacity="0.85" filter="url(#bl)"/>
<rect x="253.45" y="591.29" width="12.9" height="2.42" rx="1.21" fill="#000" fill-opacity="0.85" filter="url(#bl)"/>
<rect x="225.95" y="594.3" width="12.9" height="2.2" rx="1.1" fill="#000" fill-opacity="0.81" filter="url(#bl)"/>
<rect x="239.35" y="594.3" width="12.9" height="2.2" rx="1.1" fill="#000" fill-opacity="0.81" filter="url(#bl)"/>
<rect x="253.45" y="594.3" width="12.9" height="2.2" rx="1.1" fill="#000" fill-opacity="0.81" filter="url(#bl)"/>
<rect x="225.95" y="597.75" width="12.9" height="1.1" rx="0.55" fill="#000" fill-opacity="0.27" filter="url(#bl)"/>
<rect x="239.35" y="597.75" width="12.9" height="1.1" rx="0.55" fill="#000" fill-opacity="0.27" filter="url(#bl)"/>
<rect x="253.45" y="597.75" width="12.9" height="1.1" rx="0.55" fill="#000" fill-opacity="0.27" filter="url(#bl)"/>
<rect x="225.95" y="605.49" width="12.9" height="2.42" rx="1.21" fill="#000" fill-opacity="0.77" filter="url(#bl)"/>
<rect x="239.35" y="605.49" width="12.9" height="2.42" rx="1.21" fill="#000" fill-opacity="0.68" filter="url(#bl)"/>
<rect x="253.45" y="605.49" width="12.9" height="2.42" rx="1.21" fill="#000" fill-opacity="0.85" filter="url(#bl)"/>
<rect x="227.15" y="618.15" width="10.5" height="18.7" rx="2" fill="#000" fill-opacity="0.9" filter="url(#bl2)"/>
<rect x="226.9" y="620.62" width="11" height="2.75" rx="1.38" fill="#000" fill-opacity="0.45" filter="url(#bl)"/>
<rect x="226.9" y="625.62" width="11" height="2.75" rx="1.38" fill="#000" fill-opacity="0.45" filter="url(#bl)"/>
<rect x="226.9" y="631.62" width="11" height="2.75" rx="1.38" fill="#000" fill-opacity="0.45" filter="url(#bl)"/>
<rect x="239.35" y="621.3" width="12.9" height="15.4" rx="2" fill="#000" fill-opacity="0.36" filter="url(#bl2)"/>
<rect x="253.45" y="621.3" width="12.9" height="15.4" rx="2" fill="#000" fill-opacity="0.45" filter="url(#bl2)"/>
<rect x="239.35" y="622.4" width="12.9" height="2.2" rx="1.1" fill="#000" fill-opacity="0.23" filter="url(#bl)"/>
<rect x="253.45" y="622.4" width="12.9" height="2.2" rx="1.1" fill="#000" fill-opacity="0.27" filter="url(#bl)"/>
<rect x="239.35" y="626.9" width="12.9" height="2.2" rx="1.1" fill="#000" fill-opacity="0.27" filter="url(#bl)"/>
<rect x="253.45" y="626.9" width="12.9" height="2.2" rx="1.1" fill="#000" fill-opacity="0.32" filter="url(#bl)"/>
<rect x="225.95" y="654.01" width="12.9" height="1.98" rx="0.99" fill="#000" fill-opacity="0.81" filter="url(#bl)"/>
<rect x="225.95" y="657.21" width="12.9" height="1.98" rx="0.99" fill="#000" fill-opacity="0.77" filter="url(#bl)"/>
<rect x="239.35" y="654.17" width="12.9" height="1.65" rx="0.83" fill="#000" fill-opacity="0.63" filter="url(#bl)"/>
<rect x="253.45" y="654.17" width="12.9" height="1.65" rx="0.83" fill="#000" fill-opacity="0.63" filter="url(#bl)"/>
<rect x="225.95" y="674.29" width="12.9" height="2.42" rx="1.21" fill="#000" fill-opacity="0.85" filter="url(#bl)"/>
<rect x="239.35" y="674.29" width="12.9" height="2.42" rx="1.21" fill="#000" fill-opacity="0.85" filter="url(#bl)"/>
<rect x="253.45" y="674.29" width="12.9" height="2.42" rx="1.21" fill="#000" fill-opacity="0.85" filter="url(#bl)"/>
<text x="381.4" y="527.4" font-size="6.3" text-anchor="middle" fill="#222" stroke="#222" stroke-width="0.08">TMD8</text>
<line x1="321.5" y1="530.6" x2="441.2" y2="530.6" stroke="#1a1a1a" stroke-width="1"/>
<text x="381" y="539.2" font-size="5.6" text-anchor="middle" fill="#333" stroke="#333" stroke-width="0.08">Adhesion</text>
<rect x="325" y="599" width="12.7" height="27.2" fill="#254b8e"/>
<line x1="331.35" y1="599" x2="331.35" y2="595" stroke="#1a1a1a" stroke-width="0.9"/>
<line x1="327.86" y1="595.4" x2="334.84" y2="595.4" stroke="#1a1a1a" stroke-width="0.9"/>
<rect x="325" y="622.68" width="12.7" height="3.52" fill="#b5082d"/>
<line x1="329.15" y1="622.68" x2="333.55" y2="622.68" stroke="#1a1a1a" stroke-width="0.9"/>
<rect x="344.95" y="612.28" width="12.7" height="13.92" fill="#254b8e"/>
<line x1="351.3" y1="612.28" x2="351.3" y2="610.84" stroke="#1a1a1a" stroke-width="0.9"/>
<line x1="347.81" y1="611.24" x2="354.79" y2="611.24" stroke="#1a1a1a" stroke-width="0.9"/>
<rect x="344.95" y="622.68" width="12.7" height="3.52" fill="#b5082d"/>
<line x1="349.1" y1="622.68" x2="353.5" y2="622.68" stroke="#1a1a1a" stroke-width="0.9"/>
<rect x="364.9" y="615" width="12.7" height="11.2" fill="#254b8e"/>
<line x1="371.25" y1="615" x2="371.25" y2="614.2" stroke="#1a1a1a" stroke-width="0.9"/>
<line x1="367.76" y1="614.6" x2="374.74" y2="614.6" stroke="#1a1a1a" stroke-width="0.9"/>
<rect x="364.9" y="622.68" width="12.7" height="3.52" fill="#b5082d"/>
<line x1="369.05" y1="622.68" x2="373.45" y2="622.68" stroke="#1a1a1a" stroke-width="0.9"/>
<rect x="384.85" y="567.96" width="12.7" height="58.24" fill="#254b8e"/>
<line x1="391.2" y1="567.96" x2="391.2" y2="561.56" stroke="#1a1a1a" stroke-width="0.9"/>
<line x1="387.71" y1="561.96" x2="394.69" y2="561.96" stroke="#1a1a1a" stroke-width="0.9"/>
<rect x="384.85" y="622.68" width="12.7" height="3.52" fill="#b5082d"/>
<line x1="389" y1="622.68" x2="393.4" y2="622.68" stroke="#1a1a1a" stroke-width="0.9"/>
<rect x="404.8" y="555.8" width="12.7" height="70.4" fill="#254b8e"/>
<line x1="411.15" y1="555.8" x2="411.15" y2="552.28" stroke="#1a1a1a" stroke-width="0.9"/>
<line x1="407.66" y1="552.68" x2="414.64" y2="552.68" stroke="#1a1a1a" stroke-width="0.9"/>
<rect x="404.8" y="622.68" width="12.7" height="3.52" fill="#b5082d"/>
<line x1="408.95" y1="622.68" x2="413.35" y2="622.68" stroke="#1a1a1a" stroke-width="0.9"/>
<rect x="424.75" y="565.4" width="12.7" height="60.8" fill="#254b8e"/>
<line x1="431.1" y1="565.4" x2="431.1" y2="562.68" stroke="#1a1a1a" stroke-width="0.9"/>
<line x1="427.61" y1="563.08" x2="434.59" y2="563.08" stroke="#1a1a1a" stroke-width="0.9"/>
<rect x="424.75" y="622.68" width="12.7" height="3.52" fill="#b5082d"/>
<line x1="428.9" y1="622.68" x2="433.3" y2="622.68" stroke="#1a1a1a" stroke-width="0.9"/>
<line x1="321.5" y1="543.5" x2="321.5" y2="626.6" stroke="#1a1a1a" stroke-width="0.9"/>
<line x1="321.1" y1="626.2" x2="441.2" y2="626.2" stroke="#1a1a1a" stroke-width="0.9"/>
<line x1="318.5" y1="626.2" x2="321.5" y2="626.2" stroke="#1a1a1a" stroke-width="0.9"/>
<text x="314.5" y="628.6" font-size="6.8" text-anchor="end" fill="#333" stroke="#333" stroke-width="0.08">0</text>
<line x1="318.5" y1="610.2" x2="321.5" y2="610.2" stroke="#1a1a1a" stroke-width="0.9"/>
<text x="314.5" y="612.6" font-size="6.8" text-anchor="end" fill="#333" stroke="#333" stroke-width="0.08">5</text>
<line x1="318.5" y1="594.2" x2="321.5" y2="594.2" stroke="#1a1a1a" stroke-width="0.9"/>
<text x="314.5" y="596.6" font-size="6.8" text-anchor="end" fill="#333" stroke="#333" stroke-width="0.08">10</text>
<line x1="318.5" y1="578.2" x2="321.5" y2="578.2" stroke="#1a1a1a" stroke-width="0.9"/>
<text x="314.5" y="580.6" font-size="6.8" text-anchor="end" fill="#333" stroke="#333" stroke-width="0.08">15</text>
<line x1="318.5" y1="562.2" x2="321.5" y2="562.2" stroke="#1a1a1a" stroke-width="0.9"/>
<text x="314.5" y="564.6" font-size="6.8" text-anchor="end" fill="#333" stroke="#333" stroke-width="0.08">20</text>
<line x1="318.5" y1="546.2" x2="321.5" y2="546.2" stroke="#1a1a1a" stroke-width="0.9"/>
<text x="314.5" y="548.6" font-size="6.8" text-anchor="end" fill="#333" stroke="#333" stroke-width="0.08">25</text>
<line x1="331.35" y1="626.2" x2="331.35" y2="628.2" stroke="#1a1a1a" stroke-width="0.8"/>
<text x="334.75" y="636.5" font-size="6.9" text-anchor="end" fill="#333" stroke="#333" stroke-width="0.08" transform="rotate(-45 334.75 636.5)">Solvent</text>
<line x1="351.3" y1="626.2" x2="351.3" y2="628.2" stroke="#1a1a1a" stroke-width="0.8"/>
<text x="354.7" y="636.5" font-size="6.9" text-anchor="end" fill="#333" stroke="#333" stroke-width="0.08" transform="rotate(-45 354.7 636.5)">CsA</text>
<line x1="371.25" y1="626.2" x2="371.25" y2="628.2" stroke="#1a1a1a" stroke-width="0.8"/>
<text x="374.65" y="636.5" font-size="6.9" text-anchor="end" fill="#333" stroke="#333" stroke-width="0.08" transform="rotate(-45 374.65 636.5)">FK506</text>
<line x1="391.2" y1="626.2" x2="391.2" y2="628.2" stroke="#1a1a1a" stroke-width="0.8"/>
<text x="394.6" y="636.5" font-size="6.9" text-anchor="end" fill="#333" stroke="#333" stroke-width="0.08" transform="rotate(-45 394.6 636.5)">Solvent + PMA</text>
<line x1="411.15" y1="626.2" x2="411.15" y2="628.2" stroke="#1a1a1a" stroke-width="0.8"/>
<text x="414.55" y="636.5" font-size="6.9" text-anchor="end" fill="#333" stroke="#333" stroke-width="0.08" transform="rotate(-45 414.55 636.5)">CsA + PMA</text>
<line x1="431.1" y1="626.2" x2="431.1" y2="628.2" stroke="#1a1a1a" stroke-width="0.8"/>
<text x="434.5" y="636.5" font-size="6.9" text-anchor="end" fill="#333" stroke="#333" stroke-width="0.08" transform="rotate(-45 434.5 636.5)">FK506 + PMA</text>
<line x1="331.2" y1="584.2" x2="350.8" y2="584.2" stroke="#1a1a1a" stroke-width="0.9"/>
<text x="341" y="584.8" font-size="6.3" text-anchor="middle" stroke="#1a1a1a" stroke-width="0.08">**</text>
<line x1="331.2" y1="573.5" x2="370.7" y2="573.5" stroke="#1a1a1a" stroke-width="0.9"/>
<text x="350.95" y="574.1" font-size="6.3" text-anchor="middle" stroke="#1a1a1a" stroke-width="0.08">**</text>
<text x="292.5" y="584.6" font-size="8.6" text-anchor="middle" fill="#222" stroke="#222" stroke-width="0.08" transform="rotate(-90 292.5 584.6)" textLength="74" lengthAdjust="spacingAndGlyphs">Normalized absorbance</text>
<text x="302.8" y="584.6" font-size="8.6" text-anchor="middle" fill="#222" stroke="#222" stroke-width="0.08" transform="rotate(-90 302.8 584.6)" textLength="28" lengthAdjust="spacingAndGlyphs">[490nm]</text>
<rect x="459.6" y="577.3" width="8.6" height="4.2" fill="#b5082d"/>
<rect x="459.6" y="587.8" width="8.6" height="4.2" fill="#254b8e"/>
<text x="471.4" y="581.4" font-size="5.9" fill="#333" stroke="#333" stroke-width="0.06">BSA</text>
<text x="471.4" y="591.9" font-size="5.9" fill="#333" stroke="#333" stroke-width="0.06">Fibronectin</text>
</svg>
<div id="fr"></div>
</body></html>
